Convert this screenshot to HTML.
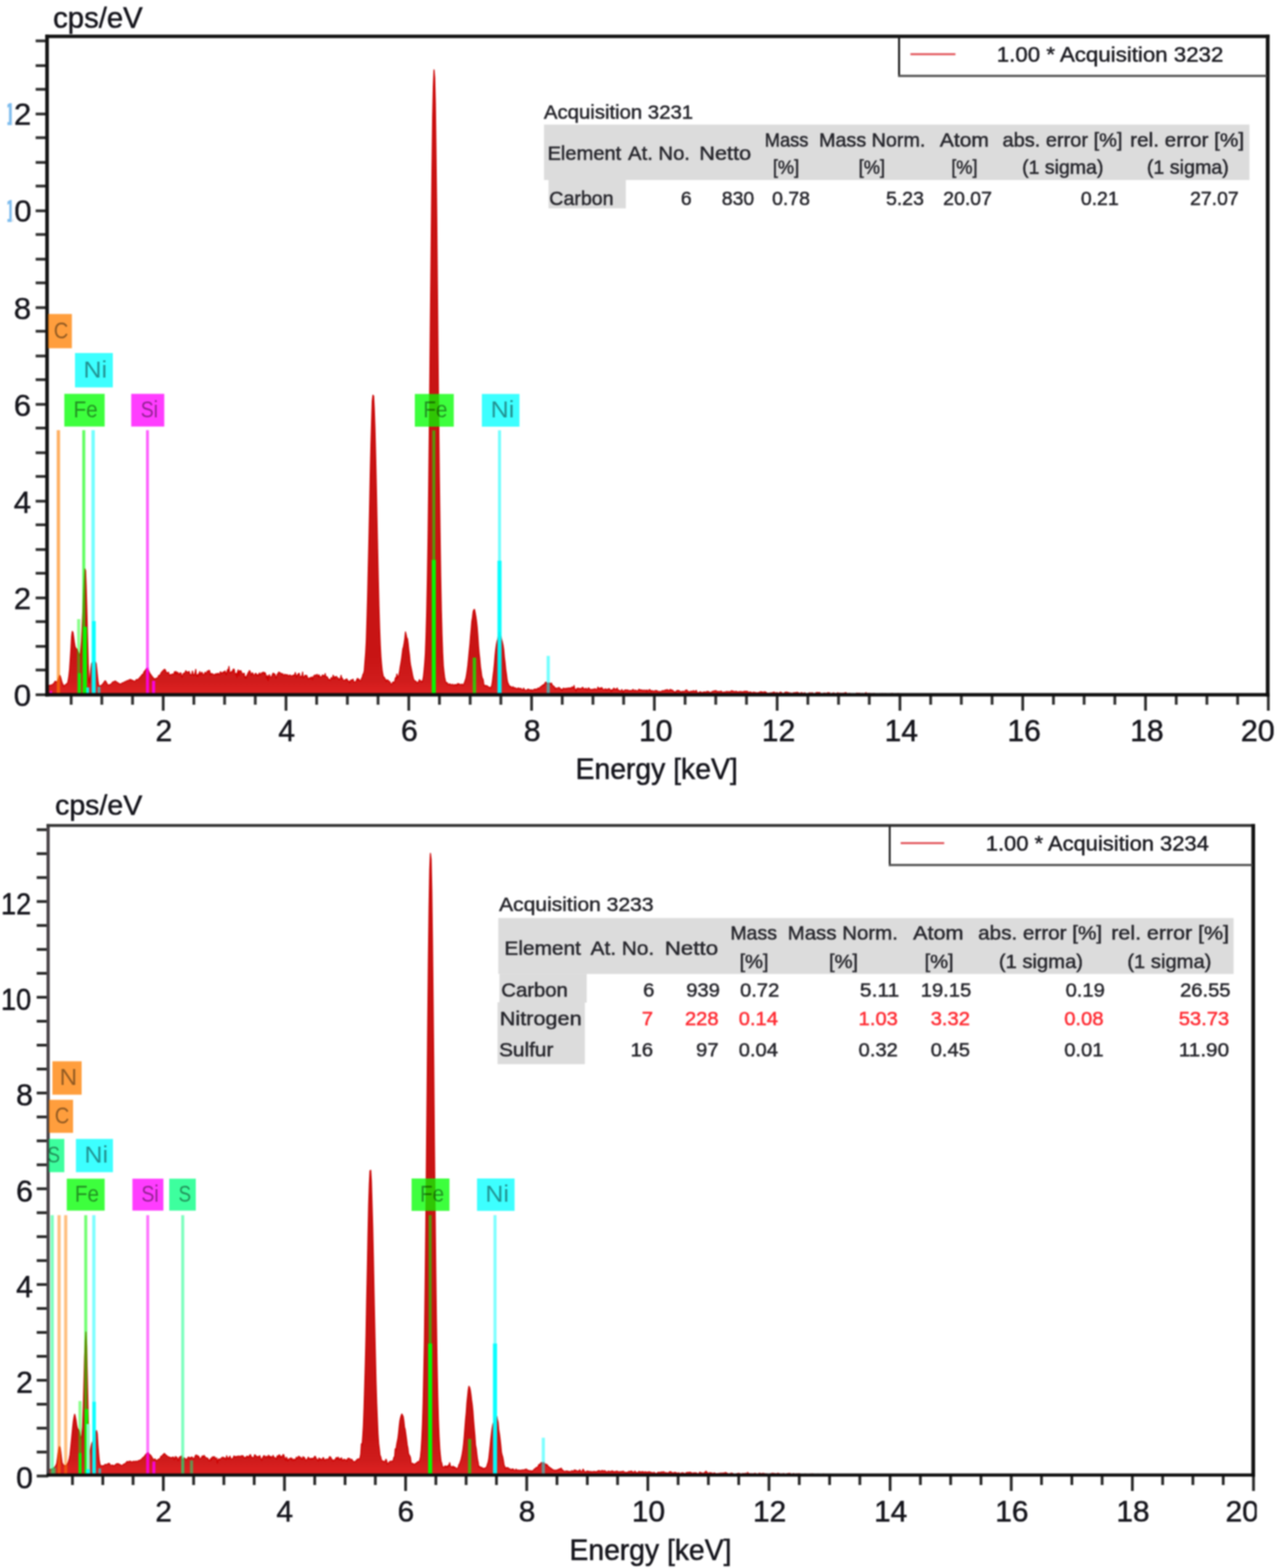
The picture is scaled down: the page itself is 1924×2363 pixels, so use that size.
<!DOCTYPE html>
<html lang="en"><head><meta charset="utf-8"><title>EDS spectra</title>
<style>html,body{margin:0;padding:0;background:#fff}svg{display:block;filter:blur(1px)}text{font-family:"Liberation Sans", sans-serif}</style>
</head><body>
<svg width="1924" height="2363" viewBox="0 0 1924 2363" role="img" aria-label="EDS spectra">
<defs>
<linearGradient id="gA" gradientUnits="userSpaceOnUse" x1="0" y1="1047" x2="0" y2="987">
<stop offset="0" stop-color="#e02222"/><stop offset="0.35" stop-color="#d01c1c"/><stop offset="1" stop-color="#c81414"/></linearGradient>
<clipPath id="clipA"><rect x="70.9" y="54.8" width="300" height="1100"/></clipPath>
<linearGradient id="gB" gradientUnits="userSpaceOnUse" x1="0" y1="2222.9" x2="0" y2="2162.9">
<stop offset="0" stop-color="#e02222"/><stop offset="0.35" stop-color="#d01c1c"/><stop offset="1" stop-color="#c81414"/></linearGradient>
<clipPath id="clipB"><rect x="72.5" y="1244" width="300" height="1100"/></clipPath>
<clipPath id="cutR"><rect x="1800" y="1050" width="119.5" height="100"/></clipPath>
<clipPath id="cutRB"><rect x="1800" y="2230" width="93.5" height="100"/></clipPath>
<clipPath id="cut2"><rect x="19.6" y="0" width="45" height="1200"/></clipPath>
<clipPath id="cut1"><rect x="11.2" y="0" width="6.4" height="1200"/></clipPath>
</defs>
<rect width="1924" height="2363" fill="#fff"/>
<g id="chartA">
<path d="M71.9 1047L71.9 1033.8L72.9 1033.5L73.9 1032.8L74.9 1033.2L75.9 1032.8L76.9 1032.3L77.9 1032.7L78.9 1031.7L79.9 1030.7L80.9 1030.1L81.9 1028.8L82.9 1026.8L83.9 1026.9L84.9 1028L85.9 1028.2L86.9 1025.6L87.9 1023.2L88.9 1020.6L89.9 1017.7L90.9 1019.1L91.9 1022.8L92.9 1026.4L93.9 1029.7L94.9 1031.6L95.9 1034.5L96.9 1033.1L97.9 1032.5L98.9 1032L99.9 1030.8L100.9 1030.1L101.9 1029.4L102.9 1024.5L103.9 1017.8L104.9 1008.4L105.9 993L106.9 977.4L107.9 959.4L108.9 951.6L109.9 952.9L110.9 959.7L111.9 967.2L112.9 973.5L113.9 976.1L114.9 978.2L115.9 978.1L116.9 980.8L117.9 983L118.9 985.1L119.9 987.9L120.9 986.3L121.9 979.3L122.9 965.8L123.9 942.5L124.9 920L125.9 896.8L126.9 875.7L127.9 857.4L128.9 859.7L129.9 886.5L130.9 922.2L131.9 961.2L132.9 999.4L133.9 1024.1L134.9 1029.8L135.9 1017.9L136.9 1007.4L137.9 999.9L138.9 998.7L139.9 997.5L140.9 997.2L141.9 996.8L142.9 996.7L143.9 998L144.9 1000.2L145.9 1009.3L146.9 1019.4L147.9 1028.5L148.9 1033.5L149.9 1033.9L150.9 1033.6L151.9 1033.5L152.9 1032.7L153.9 1031.9L154.9 1030.7L155.9 1029.3L156.9 1028L157.9 1026.3L158.9 1026L159.9 1028L160.9 1029.5L161.9 1031.6L162.9 1032.4L163.9 1032.2L164.9 1032.1L165.9 1031.5L166.9 1031.3L167.9 1030.4L168.9 1029L169.9 1027.8L170.9 1027.7L171.9 1027L172.9 1026.7L173.9 1026.3L174.9 1027.4L175.9 1027.9L176.9 1028.5L177.9 1029.3L178.9 1029.8L179.9 1030.7L180.9 1031L181.9 1030.5L182.9 1030.6L183.9 1029.5L184.9 1028.9L185.9 1029L186.9 1028.3L187.9 1027.4L188.9 1027.5L189.9 1026.8L190.9 1026.1L191.9 1025.8L192.9 1025.5L193.9 1025.3L194.9 1024.3L195.9 1024.5L196.9 1023.9L197.9 1025.2L198.9 1024.9L199.9 1025.4L200.9 1025.7L201.9 1026.8L202.9 1026.8L203.9 1026.3L204.9 1024.7L205.9 1024L206.9 1024.7L207.9 1023.7L208.9 1023.3L209.9 1021.6L210.9 1021.4L211.9 1019.2L212.9 1019.2L213.9 1016.6L214.9 1017.2L215.9 1015.4L216.9 1012.6L217.9 1011.6L218.9 1010.1L219.9 1008.7L220.9 1007.6L221.9 1008.2L222.9 1009.3L223.9 1010.3L224.9 1012.7L225.9 1015.1L226.9 1016.4L227.9 1017.5L228.9 1019.3L229.9 1020.1L230.9 1021.7L231.9 1022.5L232.9 1023L233.9 1023.1L234.9 1022.6L235.9 1021.9L236.9 1022L237.9 1021L238.9 1018.2L239.9 1017.8L240.9 1017.4L241.9 1015.9L242.9 1013.5L243.9 1012.6L244.9 1011.5L245.9 1010.3L246.9 1009.5L247.9 1008.5L248.9 1009.3L249.9 1011.6L250.9 1013.7L251.9 1013.9L252.9 1014.3L253.9 1013L254.9 1016.6L255.9 1017.6L256.9 1016.7L257.9 1016.7L258.9 1016.2L259.9 1015.8L260.9 1016.3L261.9 1016.3L262.9 1012.3L263.9 1015.1L264.9 1011.7L265.9 1016L266.9 1013.1L267.9 1013.5L268.9 1015L269.9 1017L270.9 1015L271.9 1013.9L272.9 1015.1L273.9 1020.6L274.9 1019.2L275.9 1015.4L276.9 1014.8L277.9 1014.1L278.9 1014L279.9 1010.7L280.9 1012.1L281.9 1012.7L282.9 1012.8L283.9 1013.2L284.9 1011.8L285.9 1015.5L286.9 1017.3L287.9 1016.7L288.9 1016.9L289.9 1011.3L290.9 1015.7L291.9 1018.2L292.9 1016.8L293.9 1014.1L294.9 1008.9L295.9 1018.6L296.9 1017L297.9 1020L298.9 1015.8L299.9 1015.4L300.9 1012L301.9 1017.4L302.9 1014.9L303.9 1013L304.9 1014.3L305.9 1017.2L306.9 1016.7L307.9 1016L308.9 1013L309.9 1015.1L310.9 1015L311.9 1012.1L312.9 1011.1L313.9 1011.7L314.9 1010.1L315.9 1010.9L316.9 1017.3L317.9 1014.9L318.9 1016.1L319.9 1015.2L320.9 1016.3L321.9 1016.5L322.9 1016.5L323.9 1017.4L324.9 1015.3L325.9 1015.3L326.9 1017.4L327.9 1014.7L328.9 1014.7L329.9 1016.8L330.9 1017L331.9 1012.5L332.9 1013.2L333.9 1015.3L334.9 1014.3L335.9 1013L336.9 1012.5L337.9 1013.6L338.9 1011.1L339.9 1013.6L340.9 1017.1L341.9 1013.1L342.9 1009.1L343.9 1011.4L344.9 1004.3L345.9 1012.8L346.9 1014.7L347.9 1013.1L348.9 1011.9L349.9 1012.8L350.9 1009.7L351.9 1008.1L352.9 1009.1L353.9 1015.2L354.9 1016.1L355.9 1014.7L356.9 1020.9L357.9 1012.5L358.9 1009.5L359.9 1018.3L360.9 1011.1L361.9 1010.8L362.9 1010.9L363.9 1013.4L364.9 1014.9L365.9 1015.7L366.9 1015.1L367.9 1014.6L368.9 1021.5L369.9 1019.7L370.9 1022.2L371.9 1018L372.9 1016.5L373.9 1013.7L374.9 1012.7L375.9 1010.5L376.9 1012.1L377.9 1016L378.9 1017.7L379.9 1013.9L380.9 1014.4L381.9 1017.5L382.9 1017.3L383.9 1016.9L384.9 1014.7L385.9 1015.1L386.9 1018.2L387.9 1016.9L388.9 1018.6L389.9 1015.9L390.9 1014.1L391.9 1017.1L392.9 1017.1L393.9 1014.1L394.9 1014.4L395.9 1013.7L396.9 1012.8L397.9 1015.8L398.9 1013.6L399.9 1014.8L400.9 1018.7L401.9 1022.3L402.9 1018L403.9 1025.6L404.9 1018.8L405.9 1016.8L406.9 1020.3L407.9 1020.7L408.9 1020.2L409.9 1018.1L410.9 1015.4L411.9 1014.4L412.9 1016.1L413.9 1015.6L414.9 1018.3L415.9 1022.2L416.9 1019.4L417.9 1015.8L418.9 1015.4L419.9 1012.9L420.9 1013.3L421.9 1013.9L422.9 1014.4L423.9 1015.1L424.9 1016.4L425.9 1015.2L426.9 1017.8L427.9 1018.3L428.9 1016.1L429.9 1016.8L430.9 1017.1L431.9 1017.1L432.9 1016.6L433.9 1018.8L434.9 1018.2L435.9 1017.8L436.9 1017.2L437.9 1018L438.9 1019.1L439.9 1018.7L440.9 1017.7L441.9 1018.4L442.9 1017.2L443.9 1018L444.9 1013.5L445.9 1017.6L446.9 1021.1L447.9 1017.5L448.9 1016.4L449.9 1014.9L450.9 1014.8L451.9 1019.5L452.9 1021.1L453.9 1019L454.9 1019.1L455.9 1012.8L456.9 1021.9L457.9 1021.2L458.9 1018.7L459.9 1017.5L460.9 1019.1L461.9 1017.7L462.9 1019.7L463.9 1023.3L464.9 1022.3L465.9 1022.7L466.9 1021.2L467.9 1022.7L468.9 1020.9L469.9 1020.1L470.9 1024.4L471.9 1020.7L472.9 1018.2L473.9 1017.9L474.9 1017.2L475.9 1018.2L476.9 1017.1L477.9 1016.3L478.9 1018L479.9 1020.4L480.9 1017.1L481.9 1020L482.9 1020L483.9 1020.9L484.9 1019.2L485.9 1017.2L486.9 1017.9L487.9 1018L488.9 1019.9L489.9 1015.1L490.9 1019.7L491.9 1019.8L492.9 1020L493.9 1021.6L494.9 1024.2L495.9 1023.8L496.9 1025.2L497.9 1024.7L498.9 1021.3L499.9 1021.9L500.9 1022.7L501.9 1017.6L502.9 1019.7L503.9 1022.9L504.9 1019.9L505.9 1020.3L506.9 1019.3L507.9 1021.2L508.9 1021.6L509.9 1022.3L510.9 1024.6L511.9 1023.2L512.9 1022.5L513.9 1017.7L514.9 1022.5L515.9 1022.4L516.9 1024.9L517.9 1025.4L518.9 1025.6L519.9 1024.7L520.9 1023.9L521.9 1023.4L522.9 1023.4L523.9 1026.8L524.9 1026.1L525.9 1026.9L526.9 1029.3L527.9 1025.7L528.9 1024.7L529.9 1024.9L530.9 1024.6L531.9 1023.5L532.9 1027.9L533.9 1027.6L534.9 1027.8L535.9 1027.6L536.9 1025.7L537.9 1023.2L538.9 1022.2L539.9 1025.7L540.9 1023.5L541.9 1026.2L542.9 1026.4L543.9 1024.7L544.9 1021.9L545.9 1020.3L546.9 1016.3L547.9 1015L548.9 1010.4L549.9 996.8L550.9 984.6L551.9 966.5L552.9 934.7L553.9 899.6L554.9 854.7L555.9 811.8L556.9 763.9L557.9 712.7L558.9 669.5L559.9 635.6L560.9 604.4L561.9 595.6L562.9 596.7L563.9 616.6L564.9 645.4L565.9 685L566.9 729.3L567.9 778.5L568.9 826.1L569.9 870.9L570.9 912.5L571.9 946.1L572.9 971.5L573.9 989.9L574.9 1001.9L575.9 1011.5L576.9 1016.6L577.9 1021.2L578.9 1020.5L579.9 1022.8L580.9 1023.7L581.9 1027.3L582.9 1025.1L583.9 1024.5L584.9 1026L585.9 1026.4L586.9 1027.1L587.9 1028.7L588.9 1031L589.9 1032L590.9 1029.9L591.9 1027.9L592.9 1028.1L593.9 1029.4L594.9 1025.6L595.9 1021.3L596.9 1023.3L597.9 1015.7L598.9 1022L599.9 1019.3L600.9 1017.6L601.9 1012.5L602.9 1005.3L603.9 1000L604.9 994L605.9 986.2L606.9 978L607.9 974.7L608.9 969.2L609.9 962.5L610.9 952.4L611.9 956.7L612.9 961.5L613.9 962.4L614.9 969.7L615.9 979.5L616.9 987.3L617.9 998.2L618.9 1004.3L619.9 1008.7L620.9 1013.9L621.9 1019.1L622.9 1022.7L623.9 1025L624.9 1026.2L625.9 1026.3L626.9 1027L627.9 1028.7L628.9 1029.7L629.9 1027.9L630.9 1027.1L631.9 1024.3L632.9 1025.7L633.9 1026.9L634.9 1026.3L635.9 1028L636.9 1025.2L637.9 1020.8L638.9 1011.2L639.9 999.7L640.9 985.2L641.9 958.6L642.9 923.9L643.9 876L644.9 815.6L645.9 735.8L646.9 645.3L647.9 541.2L648.9 440.9L649.9 345.3L650.9 253.5L651.9 175.6L652.9 130.7L653.9 105.2L654.9 117.3L655.9 156.5L656.9 231.9L657.9 317.1L658.9 421.7L659.9 529.3L660.9 626.8L661.9 717.9L662.9 795.6L663.9 866.7L664.9 917.9L665.9 955.2L666.9 983.6L667.9 1003.4L668.9 1012.8L669.9 1020.7L670.9 1025.2L671.9 1028.7L672.9 1028.9L673.9 1028.9L674.9 1031.8L675.9 1031L676.9 1031.4L677.9 1030.5L678.9 1032L679.9 1032L680.9 1031.7L681.9 1031.1L682.9 1032.5L683.9 1033.4L684.9 1031.6L685.9 1032.2L686.9 1031.6L687.9 1033.3L688.9 1031.1L689.9 1030L690.9 1031.3L691.9 1030.6L692.9 1031.4L693.9 1031.8L694.9 1032L695.9 1030.8L696.9 1032.2L697.9 1032.8L698.9 1030.5L699.9 1028.7L700.9 1025.6L701.9 1022.6L702.9 1017.1L703.9 1010.6L704.9 1002.7L705.9 992.5L706.9 981.9L707.9 972.2L708.9 959.3L709.9 948.3L710.9 936.4L711.9 930.2L712.9 921.7L713.9 919L714.9 918.4L715.9 923.5L716.9 928.9L717.9 935.9L718.9 945.1L719.9 957.5L720.9 972.8L721.9 984.8L722.9 993.7L723.9 1005L724.9 1011.7L725.9 1019.5L726.9 1022.3L727.9 1024L728.9 1030.9L729.9 1033.8L730.9 1032.9L731.9 1034.2L732.9 1033L733.9 1033.9L734.9 1034.1L735.9 1035.7L736.9 1035.5L737.9 1036L738.9 1037.1L739.9 1035.4L740.9 1033.2L741.9 1027.1L742.9 1018.5L743.9 1010.7L744.9 1000.9L745.9 988.4L746.9 978.7L747.9 971.5L748.9 966.5L749.9 963.3L750.9 958.4L751.9 953.1L752.9 952.5L753.9 957.3L754.9 959.9L755.9 964.1L756.9 967.8L757.9 972.4L758.9 978.9L759.9 990.3L760.9 998L761.9 1008.5L762.9 1015.4L763.9 1023.3L764.9 1028.4L765.9 1030.6L766.9 1032.7L767.9 1034.8L768.9 1034.4L769.9 1034.6L770.9 1036.3L771.9 1037L772.9 1034.7L773.9 1037.4L774.9 1036.6L775.9 1036.4L776.9 1037.2L777.9 1037.7L778.9 1037.6L779.9 1038L780.9 1036.7L781.9 1037.3L782.9 1037.8L783.9 1037.9L784.9 1037.3L785.9 1039.2L786.9 1039.3L787.9 1040.1L788.9 1037.1L789.9 1038.7L790.9 1039.9L791.9 1041L792.9 1040.1L793.9 1040.2L794.9 1038.8L795.9 1038.5L796.9 1038.9L797.9 1039.4L798.9 1040L799.9 1040.6L800.9 1039.3L801.9 1041.4L802.9 1040.3L803.9 1039.3L804.9 1038.6L805.9 1039.4L806.9 1038.3L807.9 1039.5L808.9 1038.1L809.9 1038.6L810.9 1036.5L811.9 1038.4L812.9 1037.2L813.9 1035.3L814.9 1034.8L815.9 1034.6L816.9 1032.8L817.9 1033.5L818.9 1031.7L819.9 1032.6L820.9 1029.7L821.9 1028.3L822.9 1028.1L823.9 1030.6L824.9 1029.8L825.9 1030L826.9 1029L827.9 1031L828.9 1029.5L829.9 1031.7L830.9 1029.4L831.9 1032.2L832.9 1033.2L833.9 1034L834.9 1034.7L835.9 1036.2L836.9 1038.6L837.9 1036.9L838.9 1037.4L839.9 1037.1L840.9 1036.6L841.9 1036L842.9 1036.7L843.9 1037.4L844.9 1039.1L845.9 1038.6L846.9 1040.7L847.9 1038.5L848.9 1036.9L849.9 1038.1L850.9 1037.7L851.9 1037.8L852.9 1037.2L853.9 1038.5L854.9 1037.1L855.9 1037.1L856.9 1036.9L857.9 1037.7L858.9 1036.5L859.9 1037.8L860.9 1036.6L861.9 1035.2L862.9 1035.9L863.9 1036.9L864.9 1033.1L865.9 1038.2L866.9 1038.7L867.9 1041.8L868.9 1038.3L869.9 1037.1L870.9 1038.2L871.9 1037.1L872.9 1038.1L873.9 1037.7L874.9 1037.7L875.9 1037.5L876.9 1036.5L877.9 1035.8L878.9 1037.3L879.9 1038.3L880.9 1038.1L881.9 1038.7L882.9 1037.1L883.9 1038.7L884.9 1039.7L885.9 1037.8L886.9 1036.6L887.9 1037.8L888.9 1038.8L889.9 1039L890.9 1039.5L891.9 1039L892.9 1039.3L893.9 1038.6L894.9 1038.4L895.9 1038.9L896.9 1037.9L897.9 1039.3L898.9 1039.4L899.9 1038.5L900.9 1035.4L901.9 1037.3L902.9 1038L903.9 1036.9L904.9 1038.1L905.9 1036.4L906.9 1036.4L907.9 1038.1L908.9 1039.3L909.9 1039.4L910.9 1039.1L911.9 1038L912.9 1038.5L913.9 1040.4L914.9 1038.8L915.9 1038.4L916.9 1038.5L917.9 1037.7L918.9 1039.1L919.9 1039.6L920.9 1042.4L921.9 1039.4L922.9 1040.4L923.9 1038.5L924.9 1037L925.9 1038L926.9 1038.8L927.9 1038.6L928.9 1038.6L929.9 1036.8L930.9 1040L931.9 1040L932.9 1040.3L933.9 1041.7L934.9 1041.1L935.9 1041.4L936.9 1039.1L937.9 1041.1L938.9 1043.8L939.9 1041.1L940.9 1040.5L941.9 1039.7L942.9 1039.7L943.9 1040L944.9 1040L945.9 1039.8L946.9 1041.3L947.9 1041L948.9 1040.6L949.9 1040.7L950.9 1041.2L951.9 1040.7L952.9 1039.7L953.9 1039L954.9 1040.9L955.9 1041.2L956.9 1040L957.9 1040.4L958.9 1041.3L959.9 1041L960.9 1041L961.9 1040.2L962.9 1038.7L963.9 1039.6L964.9 1039.8L965.9 1040.3L966.9 1039.8L967.9 1040.4L968.9 1041.1L969.9 1040L970.9 1040.4L971.9 1040.5L972.9 1040.2L973.9 1042.4L974.9 1039.8L975.9 1041.6L976.9 1041.3L977.9 1039.7L978.9 1039.1L979.9 1040.4L980.9 1042.5L981.9 1040.8L982.9 1041.1L983.9 1041.3L984.9 1041.7L985.9 1041.4L986.9 1040.9L987.9 1040.5L988.9 1041.3L989.9 1040.7L990.9 1042.4L991.9 1042.2L992.9 1042L993.9 1042L994.9 1042.6L995.9 1042.3L996.9 1041.7L997.9 1040.8L998.9 1041L999.9 1041.1L1000.9 1041.1L1001.9 1040L1002.9 1039.9L1003.9 1040.5L1004.9 1039.3L1005.9 1039.5L1006.9 1040.9L1007.9 1040.5L1008.9 1040.5L1009.9 1038.8L1010.9 1040.3L1011.9 1040.1L1012.9 1039.8L1013.9 1041.7L1014.9 1041.6L1015.9 1042.9L1016.9 1042.7L1017.9 1043.9L1018.9 1041.4L1019.9 1041.4L1020.9 1040.4L1021.9 1041.2L1022.9 1040.6L1023.9 1041.8L1024.9 1043L1025.9 1042L1026.9 1042.6L1027.9 1042.4L1028.9 1041.5L1029.9 1042.4L1030.9 1042.2L1031.9 1041.6L1032.9 1040.2L1033.9 1040L1034.9 1039.7L1035.9 1042.4L1036.9 1042.3L1037.9 1042L1038.9 1043.7L1039.9 1042.9L1040.9 1041.5L1041.9 1041.7L1042.9 1042.4L1043.9 1041.7L1044.9 1040.7L1045.9 1041.7L1046.9 1042.4L1047.9 1041.7L1048.9 1040.4L1049.9 1042.5L1050.9 1044.1L1051.9 1045L1052.9 1043.5L1053.9 1043.3L1054.9 1042.4L1055.9 1043.1L1056.9 1043.2L1057.9 1044.1L1058.9 1043.6L1059.9 1042.8L1060.9 1043.1L1061.9 1042.7L1062.9 1043.1L1063.9 1043.2L1064.9 1042.1L1065.9 1042L1066.9 1042.2L1067.9 1042.4L1068.9 1043.4L1069.9 1043.5L1070.9 1043.6L1071.9 1043.3L1072.9 1042L1073.9 1042.3L1074.9 1041.7L1075.9 1041.1L1076.9 1041.4L1077.9 1041.2L1078.9 1040.7L1079.9 1042.4L1080.9 1043L1081.9 1041.9L1082.9 1042.3L1083.9 1042.2L1084.9 1042.9L1085.9 1041.5L1086.9 1041.7L1087.9 1042.8L1088.9 1043.7L1089.9 1043.4L1090.9 1042.8L1091.9 1043.3L1092.9 1043.4L1093.9 1042.3L1094.9 1042L1095.9 1042.6L1096.9 1042.6L1097.9 1042.2L1098.9 1042.4L1099.9 1043.1L1100.9 1042.3L1101.9 1040.9L1102.9 1041.2L1103.9 1041.5L1104.9 1041.8L1105.9 1042.2L1106.9 1042.6L1107.9 1042.4L1108.9 1041.7L1109.9 1042.1L1110.9 1042.6L1111.9 1043.1L1112.9 1042.6L1113.9 1042.3L1114.9 1042.4L1115.9 1042.2L1116.9 1042.2L1117.9 1042.8L1118.9 1042.9L1119.9 1042.3L1120.9 1042.8L1121.9 1041.6L1122.9 1042.3L1123.9 1041.8L1124.9 1041.9L1125.9 1042L1126.9 1042.5L1127.9 1043.5L1128.9 1043.7L1129.9 1042.9L1130.9 1042.8L1131.9 1043.5L1132.9 1044.1L1133.9 1044L1134.9 1043.2L1135.9 1043.1L1136.9 1043.4L1137.9 1043.9L1138.9 1043.5L1139.9 1044.8L1140.9 1044.3L1141.9 1043.8L1142.9 1044.1L1143.9 1043.3L1144.9 1043.4L1145.9 1042.3L1146.9 1042.7L1147.9 1042.9L1148.9 1042.8L1149.9 1043.6L1150.9 1043.5L1151.9 1042.3L1152.9 1043.7L1153.9 1042.9L1154.9 1044.2L1155.9 1044.4L1156.9 1045.1L1157.9 1044.6L1158.9 1044.6L1159.9 1044.5L1160.9 1044.3L1161.9 1044.2L1162.9 1043.9L1163.9 1044.3L1164.9 1043.3L1165.9 1043.1L1166.9 1043.2L1167.9 1044L1168.9 1045.2L1169.9 1044L1170.9 1043.6L1171.9 1045.1L1172.9 1044.5L1173.9 1044.9L1174.9 1043.5L1175.9 1043.1L1176.9 1043.4L1177.9 1044.1L1178.9 1044.6L1179.9 1045.9L1180.9 1044.9L1181.9 1044.1L1182.9 1043.5L1183.9 1043.1L1184.9 1043.5L1185.9 1043.1L1186.9 1043.9L1187.9 1043.6L1188.9 1044.3L1189.9 1044.5L1190.9 1044.3L1191.9 1044.6L1192.9 1045.4L1193.9 1044.6L1194.9 1044.6L1195.9 1043.9L1196.9 1044.2L1197.9 1043.8L1198.9 1043.7L1199.9 1043.6L1200.9 1043.3L1201.9 1043.9L1202.9 1044.1L1203.9 1044.5L1204.9 1044.7L1205.9 1044.7L1206.9 1044.1L1207.9 1043.7L1208.9 1044.5L1209.9 1045.1L1210.9 1044.8L1211.9 1044L1212.9 1044.2L1213.9 1045.4L1214.9 1045.7L1215.9 1046L1216.9 1045.1L1217.9 1045.9L1218.9 1044.9L1219.9 1043.8L1220.9 1044.6L1221.9 1044.8L1222.9 1044L1223.9 1044.1L1224.9 1044.7L1225.9 1045.8L1226.9 1045.6L1227.9 1045.2L1228.9 1044.2L1229.9 1044.1L1230.9 1043.4L1231.9 1044.4L1232.9 1043.7L1233.9 1043.7L1234.9 1043.6L1235.9 1044.9L1236.9 1045.2L1237.9 1045.5L1238.9 1045.9L1239.9 1045.1L1240.9 1044.8L1241.9 1044.4L1242.9 1044.8L1243.9 1044.6L1244.9 1046L1245.9 1045.2L1246.9 1043.8L1247.9 1044.5L1248.9 1044L1249.9 1044.1L1250.9 1045.6L1251.9 1045.9L1252.9 1045.6L1253.9 1044.8L1254.9 1044.7L1255.9 1044.1L1256.9 1044.8L1257.9 1045.3L1258.9 1045.8L1259.9 1045.6L1260.9 1044.9L1261.9 1044.1L1262.9 1044.3L1263.9 1045L1264.9 1045L1265.9 1044.5L1266.9 1045L1267.9 1045.2L1268.9 1044.8L1269.9 1044.7L1270.9 1044.5L1271.9 1045.3L1272.9 1044.2L1273.9 1043.7L1274.9 1044.2L1275.9 1045.1L1276.9 1045.9L1277.9 1045.9L1278.9 1045.3L1279.9 1045.1L1280.9 1045.5L1281.9 1045.6L1282.9 1046.3L1283.9 1045.5L1284.9 1046.3L1285.9 1046.3L1286.9 1045.9L1287.9 1046.1L1288.9 1045.7L1289.9 1045.8L1290.9 1044.4L1291.9 1045.4L1292.9 1045L1293.9 1044.9L1294.9 1044.5L1295.9 1045.3L1296.9 1046.2L1297.9 1045.6L1298.9 1045.3L1299.9 1045.4L1300.9 1045.8L1301.9 1045.8L1302.9 1045.1L1303.9 1044.7L1304.9 1043.7L1305.9 1046.1L1306.9 1045.6L1307.9 1045.2L1308.9 1045.1L1309.9 1045.3L1310.9 1045.8L1311.9 1045.4L1312.9 1046.2L1313.9 1045.4L1314.9 1045.7L1315.9 1045.4L1316.9 1045.3L1317.9 1045.4L1318.9 1045.9L1319.9 1046.4L1320.9 1046.8L1321.9 1046.2L1322.9 1045.9L1323.9 1045.8L1324.9 1045.9L1325.9 1045.5L1326.9 1046.1L1327.9 1046.2L1328.9 1045.5L1329.9 1045.6L1330.9 1045.6L1331.9 1046.3L1332.9 1046.2L1333.9 1045.4L1334.9 1045.8L1335.9 1046.1L1336.9 1046.6L1337.9 1046.3L1338.9 1046.3L1339.9 1046.1L1340.9 1045.6L1341.9 1045.8L1342.9 1045.9L1343.9 1045.1L1344.9 1045.5L1345.9 1046L1346.9 1046.1L1347.9 1045.9L1348.9 1046.2L1349.9 1045.6L1350.9 1046.2L1351.9 1045.5L1352.9 1045.6L1353.9 1045.4L1354.9 1045.7L1355.9 1046.2L1356.9 1046.9L1357.9 1046.5L1358.9 1046.2L1359.9 1046.1L1360.9 1046.1L1361.9 1045.8L1362.9 1045.7L1363.9 1046.3L1364.9 1045.8L1365.9 1046.1L1366.9 1046L1367.9 1046.3L1368.9 1046.9L1369.9 1046.8L1370.9 1046.5L1371.9 1046.1L1372.9 1046.6L1373.9 1046.1L1374.9 1046.3L1375.9 1046.3L1376.9 1046.7L1377.9 1046.5L1378.9 1045.8L1379.9 1046L1380.9 1045.8L1381.9 1045.9L1382.9 1046L1383.9 1046.1L1384.9 1045.8L1385.9 1045.8L1386.9 1046.4L1387.9 1046.6L1388.9 1046.7L1389.9 1046.2L1390.9 1046.3L1391.9 1046.8L1392.9 1046.4L1393.9 1046.5L1394.9 1046.2L1395.9 1046.5L1396.9 1046.7L1397.9 1047L1398.9 1046.7L1399.9 1045.8L1400.9 1046.3L1401.9 1046.3L1402.9 1046.2L1403.9 1045.8L1404.9 1046L1405.9 1045.9L1406.9 1045.8L1407.9 1046.1L1408.9 1046.7L1409.9 1046.6L1410.9 1046.8L1411.9 1046.7L1412.9 1046.7L1413.9 1046.8L1414.9 1046.7L1415.9 1046.7L1416.9 1046.2L1417.9 1046.7L1418.9 1046.7L1419.9 1046.5L1420.9 1046.5L1421.9 1046.3L1422.9 1046.3L1423.9 1046.5L1424.9 1046.3L1425.9 1046.9L1426.9 1046.7L1427.9 1046.9L1428.9 1046.8L1429.9 1046.8L1430.9 1047L1431.9 1046.9L1432.9 1046.7L1433.9 1046.9L1434.9 1046.7L1435.9 1046.4L1436.9 1046.5L1437.9 1046.4L1438.9 1046.7L1439.9 1046.8L1440.9 1046.7L1441.9 1046.6L1442.9 1046.5L1443.9 1046.8L1444.9 1046.7L1445.9 1046.8L1446.9 1046.7L1447.9 1046.7L1448.9 1046.8L1449.9 1046.9L1450.9 1046.8L1451.9 1047L1452.9 1047L1453.9 1047L1454.9 1047L1455.9 1047L1456.9 1047L1457.9 1047L1458.9 1046.8L1459.9 1047L1460.9 1046.9L1461.9 1046.7L1462.9 1047L1463.9 1047L1464.9 1046.8L1465.9 1046.9L1466.9 1047L1466.9 1047Z" fill="url(#gA)" stroke="#cc0000" stroke-width="1.6" stroke-linejoin="round"/>
<g>
<rect x="85.5" y="648.3" width="5" height="396.7" fill="rgba(255,128,0,0.62)"/>
<rect x="123.9" y="648.3" width="4.6" height="396.7" fill="rgba(0,255,0,0.62)"/>
<rect x="116.2" y="933" width="4.8" height="112" fill="rgba(0,255,0,0.45)"/>
<rect x="117.5" y="1014.4" width="4.6" height="30.6" fill="rgba(0,255,0,0.85)"/>
<rect x="125.4" y="944.5" width="5.6" height="100.5" fill="rgba(0,255,0,0.92)"/>
<rect x="137.7" y="648.3" width="5.2" height="396.7" fill="rgba(0,255,255,0.55)"/>
<rect x="138.7" y="936" width="5.6" height="109" fill="rgba(0,255,255,0.92)"/>
<rect x="147.1" y="1035" width="4.2" height="10" fill="rgba(0,255,255,0.6)"/>
<rect x="130" y="1036" width="4.4" height="9" fill="rgba(0,255,255,0.9)"/>
<rect x="220" y="648.3" width="4.4" height="396.7" fill="rgba(255,0,255,0.62)"/>
<rect x="219.9" y="1006" width="4.6" height="39" fill="rgba(255,0,255,0.5)"/>
<rect x="229.1" y="1026" width="4.6" height="19" fill="rgba(255,0,255,0.85)"/>
<rect x="75.1" y="1041" width="3.4" height="4" fill="rgba(255,0,255,0.8)"/>
<rect x="651.3" y="648.5" width="4.6" height="396.5" fill="rgba(0,255,0,0.55)"/>
<rect x="650.5" y="843.7" width="6.2" height="201.3" fill="rgba(0,255,0,0.92)"/>
<rect x="712.2" y="991" width="5.2" height="54" fill="rgba(0,255,0,0.72)"/>
<rect x="750.3" y="648.5" width="4.6" height="396.5" fill="rgba(0,255,255,0.55)"/>
<rect x="749.5" y="845" width="6.2" height="200" fill="rgba(0,255,255,0.92)"/>
<rect x="823.6" y="988.4" width="4.8" height="56.6" fill="rgba(0,255,255,0.55)"/>
</g>
<g fill="#303030">
<rect x="53.7" y="1044.9" width="17.2" height="4.2"/>
<rect x="53.7" y="1007.6" width="17.2" height="4.2"/>
<rect x="53.7" y="972" width="17.2" height="4.2"/>
<rect x="53.7" y="934.7" width="17.2" height="4.2"/>
<rect x="53.7" y="899" width="17.2" height="4.2"/>
<rect x="53.7" y="861.8" width="17.2" height="4.2"/>
<rect x="53.7" y="826.1" width="17.2" height="4.2"/>
<rect x="53.7" y="788.8" width="17.2" height="4.2"/>
<rect x="53.7" y="753.2" width="17.2" height="4.2"/>
<rect x="53.7" y="715.9" width="17.2" height="4.2"/>
<rect x="53.7" y="680.2" width="17.2" height="4.2"/>
<rect x="53.7" y="643" width="17.2" height="4.2"/>
<rect x="53.7" y="607.3" width="17.2" height="4.2"/>
<rect x="53.7" y="570.1" width="17.2" height="4.2"/>
<rect x="53.7" y="534.4" width="17.2" height="4.2"/>
<rect x="53.7" y="497.1" width="17.2" height="4.2"/>
<rect x="53.7" y="461.5" width="17.2" height="4.2"/>
<rect x="53.7" y="424.2" width="17.2" height="4.2"/>
<rect x="53.7" y="388.5" width="17.2" height="4.2"/>
<rect x="53.7" y="351.3" width="17.2" height="4.2"/>
<rect x="53.7" y="315.6" width="17.2" height="4.2"/>
<rect x="53.7" y="278.3" width="17.2" height="4.2"/>
<rect x="53.7" y="242.7" width="17.2" height="4.2"/>
<rect x="53.7" y="205.4" width="17.2" height="4.2"/>
<rect x="53.7" y="169.7" width="17.2" height="4.2"/>
<rect x="53.7" y="132.5" width="17.2" height="4.2"/>
<rect x="53.7" y="96.8" width="17.2" height="4.2"/>
<rect x="53.7" y="59.5" width="17.2" height="4.2"/>
<rect x="105.1" y="1047" width="4.2" height="15"/>
<rect x="151.3" y="1047" width="4.2" height="15"/>
<rect x="197.6" y="1047" width="4.2" height="15"/>
<rect x="243.8" y="1047" width="4.2" height="24"/>
<rect x="290" y="1047" width="4.2" height="15"/>
<rect x="336.3" y="1047" width="4.2" height="15"/>
<rect x="382.5" y="1047" width="4.2" height="15"/>
<rect x="428.8" y="1047" width="4.2" height="24"/>
<rect x="475" y="1047" width="4.2" height="15"/>
<rect x="521.3" y="1047" width="4.2" height="15"/>
<rect x="567.5" y="1047" width="4.2" height="15"/>
<rect x="613.8" y="1047" width="4.2" height="24"/>
<rect x="660" y="1047" width="4.2" height="15"/>
<rect x="706.3" y="1047" width="4.2" height="15"/>
<rect x="752.5" y="1047" width="4.2" height="15"/>
<rect x="798.8" y="1047" width="4.2" height="24"/>
<rect x="845" y="1047" width="4.2" height="15"/>
<rect x="891.3" y="1047" width="4.2" height="15"/>
<rect x="937.5" y="1047" width="4.2" height="15"/>
<rect x="983.8" y="1047" width="4.2" height="24"/>
<rect x="1030.1" y="1047" width="4.2" height="15"/>
<rect x="1076.3" y="1047" width="4.2" height="15"/>
<rect x="1122.6" y="1047" width="4.2" height="15"/>
<rect x="1168.8" y="1047" width="4.2" height="24"/>
<rect x="1215.1" y="1047" width="4.2" height="15"/>
<rect x="1261.3" y="1047" width="4.2" height="15"/>
<rect x="1307.6" y="1047" width="4.2" height="15"/>
<rect x="1353.8" y="1047" width="4.2" height="24"/>
<rect x="1400.1" y="1047" width="4.2" height="15"/>
<rect x="1446.3" y="1047" width="4.2" height="15"/>
<rect x="1492.6" y="1047" width="4.2" height="15"/>
<rect x="1538.8" y="1047" width="4.2" height="24"/>
<rect x="1585.1" y="1047" width="4.2" height="15"/>
<rect x="1631.3" y="1047" width="4.2" height="15"/>
<rect x="1677.6" y="1047" width="4.2" height="15"/>
<rect x="1723.8" y="1047" width="4.2" height="24"/>
<rect x="1770.1" y="1047" width="4.2" height="15"/>
<rect x="1816.3" y="1047" width="4.2" height="15"/>
<rect x="1862.6" y="1047" width="4.2" height="15"/>
<rect x="1908.8" y="1047" width="4.2" height="24"/>
</g>
<rect x="68.2" y="52.2" width="5.4" height="997.4" fill="#121212"/>
<rect x="68.2" y="52.2" width="1844.6" height="5.2" fill="#121212"/>
<rect x="1907.2" y="52.2" width="5.6" height="997.4" fill="#121212"/>
<rect x="68.2" y="1044.4" width="1844.6" height="5.2" fill="#0e0e0e"/>
<rect x="72.5" y="473.2" width="35.8" height="51.6" fill="rgba(255,128,0,0.76)"/>
<rect x="113" y="532" width="57" height="51.8" fill="rgba(0,255,255,0.76)"/>
<rect x="96.9" y="593.5" width="60.8" height="49.3" fill="rgba(0,255,0,0.76)"/>
<rect x="197.7" y="593.5" width="49.8" height="49.3" fill="rgba(255,0,255,0.76)"/>
<rect x="625" y="593.7" width="58.7" height="49.3" fill="rgba(0,255,0,0.76)"/>
<rect x="726" y="593.7" width="56.7" height="49.3" fill="rgba(0,255,255,0.76)"/>
<g font-size="35" text-anchor="middle" fill="rgba(0,0,0,.43)">
<text x="92" y="509.8" textLength="21.9" lengthAdjust="spacingAndGlyphs">C</text>
<text x="143.5" y="568.7" textLength="35.5" lengthAdjust="spacingAndGlyphs">Ni</text>
<text x="129" y="628.9" textLength="36.6" lengthAdjust="spacingAndGlyphs">Fe</text>
<text x="225" y="628.9" textLength="26.2" lengthAdjust="spacingAndGlyphs">Si</text>
<text x="656" y="629.1" textLength="36.6" lengthAdjust="spacingAndGlyphs">Fe</text>
<text x="757" y="629.1" textLength="35.5" lengthAdjust="spacingAndGlyphs">Ni</text>
</g>
</g>
<g id="chartB">
<path d="M73.5 2222.9L73.5 2214.9L74.5 2214.8L75.5 2214.4L76.5 2214.5L77.5 2214L78.5 2213.6L79.5 2213.8L80.5 2213L81.5 2211.6L82.5 2211.1L83.5 2209.7L84.5 2207.8L85.5 2205.3L86.5 2198.1L87.5 2190.1L88.5 2184.5L89.5 2180L90.5 2181.3L91.5 2187.4L92.5 2196.4L93.5 2204L94.5 2206.1L95.5 2207.7L96.5 2209L97.5 2208.4L98.5 2208.9L99.5 2208.5L100.5 2208.2L101.5 2206.1L102.5 2204.8L103.5 2201.6L104.5 2197.5L105.5 2192.2L106.5 2182.4L107.5 2172.1L108.5 2161.5L109.5 2151.1L110.5 2141.9L111.5 2135.6L112.5 2131.3L113.5 2135.3L114.5 2140.1L115.5 2147.6L116.5 2152.2L117.5 2154.1L118.5 2154.9L119.5 2157.5L120.5 2162.6L121.5 2167.9L122.5 2166.9L123.5 2161.2L124.5 2150.6L125.5 2120.4L126.5 2083.4L127.5 2044.9L128.5 2021.2L129.5 2007.2L130.5 2029.8L131.5 2071.4L132.5 2118.3L133.5 2161.3L134.5 2184.2L135.5 2192.2L136.5 2184.7L137.5 2178.5L138.5 2174.8L139.5 2172.9L140.5 2170.9L141.5 2167.9L142.5 2164.3L143.5 2160.6L144.5 2156.9L145.5 2156.1L146.5 2160.5L147.5 2177.2L148.5 2190L149.5 2200.7L150.5 2206L151.5 2208.8L152.5 2209.2L153.5 2209.2L154.5 2208.6L155.5 2209.2L156.5 2208.6L157.5 2207.9L158.5 2206.9L159.5 2207.1L160.5 2207.2L161.5 2206.7L162.5 2205.9L163.5 2205.6L164.5 2205.2L165.5 2206.6L166.5 2208.1L167.5 2208.6L168.5 2208.3L169.5 2207.8L170.5 2208.9L171.5 2208.8L172.5 2209L173.5 2207.4L174.5 2207.3L175.5 2206L176.5 2205.9L177.5 2206.1L178.5 2205.9L179.5 2206.7L180.5 2207.2L181.5 2207.4L182.5 2208.7L183.5 2208.5L184.5 2208L185.5 2207.4L186.5 2206.4L187.5 2206.2L188.5 2205.9L189.5 2204.5L190.5 2203.9L191.5 2202.3L192.5 2203L193.5 2203.1L194.5 2202.3L195.5 2202.1L196.5 2202.2L197.5 2202.5L198.5 2203.5L199.5 2203.4L200.5 2202.4L201.5 2202.1L202.5 2202.8L203.5 2202.4L204.5 2202.1L205.5 2202.1L206.5 2202.5L207.5 2202.6L208.5 2201L209.5 2201.2L210.5 2200.8L211.5 2200.1L212.5 2199.5L213.5 2198.9L214.5 2197.3L215.5 2196.4L216.5 2196.1L217.5 2194.6L218.5 2193.4L219.5 2191.8L220.5 2191L221.5 2190.1L222.5 2189.9L223.5 2189.5L224.5 2191L225.5 2191.8L226.5 2192.8L227.5 2193.7L228.5 2195.3L229.5 2197L230.5 2198.9L231.5 2199.4L232.5 2199.5L233.5 2198.5L234.5 2200.3L235.5 2200.7L236.5 2200.8L237.5 2200L238.5 2199.1L239.5 2199.1L240.5 2198.3L241.5 2197.5L242.5 2194.6L243.5 2194.9L244.5 2193.8L245.5 2192L246.5 2191.7L247.5 2190.3L248.5 2191.2L249.5 2192.4L250.5 2193.1L251.5 2193.9L252.5 2194.8L253.5 2195.5L254.5 2195.6L255.5 2195.9L256.5 2196.7L257.5 2196.8L258.5 2196.8L259.5 2196.2L260.5 2196L261.5 2195.9L262.5 2199.8L263.5 2197.9L264.5 2194.9L265.5 2196.9L266.5 2196L267.5 2198.5L268.5 2201.3L269.5 2197.7L270.5 2196L271.5 2195.1L272.5 2196L273.5 2194.1L274.5 2201.2L275.5 2200.4L276.5 2198.7L277.5 2197L278.5 2198L279.5 2198.6L280.5 2199.8L281.5 2199.3L282.5 2197.6L283.5 2196L284.5 2195.9L285.5 2196.6L286.5 2198.7L287.5 2196.7L288.5 2195.9L289.5 2195.9L290.5 2197.3L291.5 2198.2L292.5 2199L293.5 2195.5L294.5 2193.6L295.5 2192.7L296.5 2194L297.5 2193.3L298.5 2196.4L299.5 2194.5L300.5 2198.1L301.5 2198.2L302.5 2197.9L303.5 2196.6L304.5 2194.5L305.5 2194.1L306.5 2196L307.5 2193.2L308.5 2194.9L309.5 2196.1L310.5 2196.6L311.5 2197.7L312.5 2197.2L313.5 2198.4L314.5 2200.9L315.5 2200.4L316.5 2201.3L317.5 2197.7L318.5 2200.2L319.5 2195.9L320.5 2197L321.5 2195.2L322.5 2196.4L323.5 2195.4L324.5 2198.8L325.5 2198.3L326.5 2197L327.5 2205.2L328.5 2200.3L329.5 2198.5L330.5 2199.1L331.5 2200.2L332.5 2198L333.5 2197.7L334.5 2196.2L335.5 2196.4L336.5 2196.1L337.5 2198.4L338.5 2196.9L339.5 2198.5L340.5 2199.6L341.5 2193.8L342.5 2197.3L343.5 2197.1L344.5 2199.2L345.5 2195.7L346.5 2194.4L347.5 2198L348.5 2198.2L349.5 2198.6L350.5 2198.8L351.5 2196.3L352.5 2194.2L353.5 2194.8L354.5 2196.3L355.5 2195L356.5 2195.5L357.5 2194.6L358.5 2194.7L359.5 2194.4L360.5 2194.4L361.5 2195.1L362.5 2195L363.5 2193.9L364.5 2194.4L365.5 2193.7L366.5 2194.4L367.5 2196.4L368.5 2197.4L369.5 2196.3L370.5 2197.2L371.5 2194.6L372.5 2194.9L373.5 2194.6L374.5 2196.7L375.5 2194.8L376.5 2192.6L377.5 2192.3L378.5 2196.5L379.5 2195.8L380.5 2196.5L381.5 2196.8L382.5 2196.5L383.5 2192.6L384.5 2192.6L385.5 2194.1L386.5 2194.8L387.5 2195.3L388.5 2195.2L389.5 2196.1L390.5 2194.3L391.5 2193.8L392.5 2197.7L393.5 2198.7L394.5 2200.8L395.5 2196.6L396.5 2195.7L397.5 2193.7L398.5 2193.9L399.5 2196.2L400.5 2196.7L401.5 2194.5L402.5 2195.5L403.5 2196.5L404.5 2193.1L405.5 2193.9L406.5 2197.5L407.5 2194.9L408.5 2195.7L409.5 2195.8L410.5 2195.3L411.5 2193.3L412.5 2196L413.5 2196.4L414.5 2197L415.5 2197.8L416.5 2199.1L417.5 2194.1L418.5 2196.7L419.5 2193.6L420.5 2192.6L421.5 2192.8L422.5 2197.1L423.5 2194.8L424.5 2195.3L425.5 2194.8L426.5 2192L427.5 2192.2L428.5 2195.9L429.5 2198.5L430.5 2200.9L431.5 2196L432.5 2197.8L433.5 2201.9L434.5 2199.8L435.5 2198.6L436.5 2198.2L437.5 2198.2L438.5 2196.8L439.5 2199.9L440.5 2198.2L441.5 2201.3L442.5 2200.3L443.5 2198.8L444.5 2200.7L445.5 2199.3L446.5 2196.1L447.5 2197.4L448.5 2197.2L449.5 2195L450.5 2194.5L451.5 2196.5L452.5 2196L453.5 2196.8L454.5 2199.1L455.5 2199.2L456.5 2195.3L457.5 2196.4L458.5 2196.3L459.5 2198.2L460.5 2200.8L461.5 2200.8L462.5 2199.1L463.5 2198.3L464.5 2195.8L465.5 2197.6L466.5 2197.9L467.5 2199.6L468.5 2197.7L469.5 2197.7L470.5 2199.5L471.5 2197.5L472.5 2197.9L473.5 2195.9L474.5 2194.5L475.5 2195.6L476.5 2198.3L477.5 2199.4L478.5 2200L479.5 2201.9L480.5 2197.2L481.5 2197.9L482.5 2200.1L483.5 2198.6L484.5 2200.4L485.5 2199.9L486.5 2196.9L487.5 2196.9L488.5 2200L489.5 2201.1L490.5 2199.4L491.5 2198.9L492.5 2199.4L493.5 2199L494.5 2199L495.5 2197.7L496.5 2195.2L497.5 2195.6L498.5 2196.2L499.5 2199L500.5 2199.3L501.5 2201.6L502.5 2200.5L503.5 2201L504.5 2199.3L505.5 2199.5L506.5 2196.5L507.5 2196.8L508.5 2199.1L509.5 2195.9L510.5 2198L511.5 2199.8L512.5 2198.2L513.5 2199.5L514.5 2196.9L515.5 2200.1L516.5 2201.4L517.5 2199.6L518.5 2199L519.5 2199.8L520.5 2199.9L521.5 2200.6L522.5 2202L523.5 2198.4L524.5 2197.9L525.5 2197.5L526.5 2198.1L527.5 2198.9L528.5 2199.6L529.5 2199.3L530.5 2199.8L531.5 2201.9L532.5 2202.6L533.5 2202.6L534.5 2202.7L535.5 2203.2L536.5 2200.7L537.5 2201.1L538.5 2198.9L539.5 2198.9L540.5 2198.8L541.5 2198.8L542.5 2196.6L543.5 2191.5L544.5 2175.8L545.5 2178.7L546.5 2165.4L547.5 2149L548.5 2122.3L549.5 2088.1L550.5 2053.1L551.5 2012L552.5 1959.1L553.5 1912.3L554.5 1860.4L555.5 1814.2L556.5 1784.5L557.5 1764.5L558.5 1763.5L559.5 1780L560.5 1814L561.5 1848.9L562.5 1894.4L563.5 1946.7L564.5 1993.9L565.5 2038.8L566.5 2080.9L567.5 2113.3L568.5 2137.9L569.5 2160.8L570.5 2175.4L571.5 2183.5L572.5 2193L573.5 2195L574.5 2199.3L575.5 2201.4L576.5 2202.3L577.5 2201.9L578.5 2202.5L579.5 2203.5L580.5 2201.7L581.5 2199.1L582.5 2200.8L583.5 2206.4L584.5 2205.2L585.5 2204.9L586.5 2203.3L587.5 2202.2L588.5 2202.2L589.5 2202.1L590.5 2202L591.5 2202.3L592.5 2200.3L593.5 2196.1L594.5 2196.2L595.5 2183.4L596.5 2186.1L597.5 2177.9L598.5 2172.6L599.5 2168L600.5 2159.9L601.5 2149.6L602.5 2141.2L603.5 2136.5L604.5 2133L605.5 2130.9L606.5 2132.9L607.5 2134.8L608.5 2141.5L609.5 2151.1L610.5 2154.3L611.5 2161.5L612.5 2169.1L613.5 2177.4L614.5 2182.1L615.5 2190.3L616.5 2192.7L617.5 2194.1L618.5 2197.1L619.5 2205.1L620.5 2205.7L621.5 2205.3L622.5 2205.5L623.5 2207.4L624.5 2206.8L625.5 2206.1L626.5 2205L627.5 2205.2L628.5 2203.9L629.5 2202.6L630.5 2203.3L631.5 2202.8L632.5 2199.8L633.5 2195.7L634.5 2185.4L635.5 2169L636.5 2147.1L637.5 2115.6L638.5 2069.8L639.5 2018.9L640.5 1942.6L641.5 1855.7L642.5 1750.4L643.5 1648.2L644.5 1540L645.5 1442.5L646.5 1366.8L647.5 1310.4L648.5 1286.1L649.5 1294.8L650.5 1341.1L651.5 1414.6L652.5 1507L653.5 1608.6L654.5 1725L655.5 1821.3L656.5 1912.6L657.5 1990.3L658.5 2056.1L659.5 2103.7L660.5 2139.3L661.5 2164.1L662.5 2182.6L663.5 2193.7L664.5 2202.2L665.5 2204.7L666.5 2209.6L667.5 2210.9L668.5 2211.1L669.5 2211.1L670.5 2208.9L671.5 2211.4L672.5 2209.7L673.5 2209.4L674.5 2211.6L675.5 2208L676.5 2208.4L677.5 2204.2L678.5 2209.5L679.5 2209.9L680.5 2210.8L681.5 2211.7L682.5 2209.3L683.5 2212.5L684.5 2210.6L685.5 2211.1L686.5 2211.9L687.5 2214L688.5 2213.1L689.5 2212.4L690.5 2211L691.5 2207L692.5 2206L693.5 2202.8L694.5 2200L695.5 2195.8L696.5 2190.7L697.5 2184.3L698.5 2176.1L699.5 2164.9L700.5 2151.6L701.5 2138.9L702.5 2128.8L703.5 2114.1L704.5 2104.7L705.5 2094.8L706.5 2089.1L707.5 2090.6L708.5 2094.7L709.5 2101.3L710.5 2109.9L711.5 2116.9L712.5 2126.8L713.5 2140.5L714.5 2152.2L715.5 2163.4L716.5 2178.2L717.5 2182.9L718.5 2192.1L719.5 2199.5L720.5 2204.2L721.5 2211.1L722.5 2209.9L723.5 2210.8L724.5 2212.6L725.5 2211L726.5 2213.3L727.5 2212.4L728.5 2214.2L729.5 2212.8L730.5 2212.5L731.5 2212L732.5 2211.8L733.5 2209.5L734.5 2206.3L735.5 2203.2L736.5 2197.8L737.5 2188.7L738.5 2179.1L739.5 2168.5L740.5 2159.9L741.5 2152.4L742.5 2146.9L743.5 2144.2L744.5 2144.1L745.5 2138.4L746.5 2138.9L747.5 2137.6L748.5 2134.5L749.5 2139.8L750.5 2143.8L751.5 2155.5L752.5 2161L753.5 2169L754.5 2178L755.5 2188.6L756.5 2192.8L757.5 2196.1L758.5 2201.5L759.5 2208.1L760.5 2209.7L761.5 2213.7L762.5 2212L763.5 2211.8L764.5 2211.9L765.5 2211.9L766.5 2213.3L767.5 2213.2L768.5 2213.8L769.5 2215.3L770.5 2215.7L771.5 2213.5L772.5 2215.1L773.5 2213.9L774.5 2216L775.5 2216.2L776.5 2215.3L777.5 2213.9L778.5 2216.1L779.5 2215.9L780.5 2215.2L781.5 2215.6L782.5 2215.7L783.5 2216.2L784.5 2215.4L785.5 2215.7L786.5 2215.5L787.5 2215L788.5 2215.6L789.5 2215.2L790.5 2214.7L791.5 2214.2L792.5 2214.7L793.5 2214L794.5 2215.6L795.5 2216.5L796.5 2215.5L797.5 2216.9L798.5 2217.2L799.5 2216.1L800.5 2218.3L801.5 2216.7L802.5 2217.3L803.5 2215.8L804.5 2214.6L805.5 2213.4L806.5 2214L807.5 2211.8L808.5 2211.4L809.5 2211.5L810.5 2210.6L811.5 2207.7L812.5 2206.7L813.5 2208.4L814.5 2205.2L815.5 2204.3L816.5 2204L817.5 2205.3L818.5 2204.6L819.5 2203.8L820.5 2206.3L821.5 2206.8L822.5 2206.1L823.5 2208.9L824.5 2207.3L825.5 2209.6L826.5 2210L827.5 2210.8L828.5 2211.5L829.5 2212.9L830.5 2212.7L831.5 2214.8L832.5 2214.4L833.5 2215L834.5 2215.5L835.5 2216.3L836.5 2215.4L837.5 2215.7L838.5 2216.2L839.5 2215.1L840.5 2214.7L841.5 2214.5L842.5 2213.8L843.5 2213.6L844.5 2214L845.5 2212.4L846.5 2214.8L847.5 2215L848.5 2216.3L849.5 2217.1L850.5 2217.8L851.5 2217L852.5 2217L853.5 2217.4L854.5 2216.6L855.5 2217.1L856.5 2218.8L857.5 2217.3L858.5 2217.8L859.5 2217.9L860.5 2217.6L861.5 2216.3L862.5 2217L863.5 2218.1L864.5 2216.3L865.5 2215.2L866.5 2216.8L867.5 2215.5L868.5 2216.5L869.5 2216.8L870.5 2217.4L871.5 2216.6L872.5 2217.8L873.5 2214.7L874.5 2217L875.5 2217.7L876.5 2217.9L877.5 2216.4L878.5 2214.1L879.5 2215.9L880.5 2217.2L881.5 2218.2L882.5 2218.5L883.5 2217.7L884.5 2216.9L885.5 2217.1L886.5 2218.2L887.5 2217L888.5 2217.8L889.5 2218.5L890.5 2217.4L891.5 2218.6L892.5 2218.2L893.5 2217.8L894.5 2217.5L895.5 2217.5L896.5 2217.9L897.5 2217.7L898.5 2218L899.5 2217.8L900.5 2216.8L901.5 2216.6L902.5 2216.4L903.5 2216.4L904.5 2217.9L905.5 2217.4L906.5 2216.3L907.5 2215.9L908.5 2217.5L909.5 2217.7L910.5 2216L911.5 2217.4L912.5 2217L913.5 2218.5L914.5 2218.3L915.5 2218.1L916.5 2216.9L917.5 2217.2L918.5 2217.9L919.5 2217.7L920.5 2217.2L921.5 2217.8L922.5 2216.4L923.5 2218.3L924.5 2217.5L925.5 2218.1L926.5 2218.1L927.5 2217.3L928.5 2218.1L929.5 2216.8L930.5 2217.6L931.5 2218L932.5 2218.5L933.5 2218L934.5 2218.4L935.5 2217.5L936.5 2217.9L937.5 2218L938.5 2217.1L939.5 2217.5L940.5 2218.4L941.5 2218.7L942.5 2219.1L943.5 2219L944.5 2218.7L945.5 2218.8L946.5 2218.7L947.5 2217.2L948.5 2218.2L949.5 2217.9L950.5 2216.8L951.5 2217.6L952.5 2217.4L953.5 2219.8L954.5 2218.8L955.5 2218.9L956.5 2216.9L957.5 2218.6L958.5 2218.6L959.5 2219.5L960.5 2220L961.5 2218.8L962.5 2217.6L963.5 2217.5L964.5 2218.6L965.5 2218.1L966.5 2218.8L967.5 2217.7L968.5 2217.6L969.5 2219L970.5 2218.5L971.5 2218.2L972.5 2218L973.5 2218.6L974.5 2218.5L975.5 2219L976.5 2218.2L977.5 2218.3L978.5 2217.9L979.5 2218.7L980.5 2218.7L981.5 2219.1L982.5 2219.4L983.5 2219.5L984.5 2219.8L985.5 2218.7L986.5 2220L987.5 2220.1L988.5 2221.5L989.5 2220.2L990.5 2219.6L991.5 2218.8L992.5 2219L993.5 2218.8L994.5 2219.1L995.5 2219.8L996.5 2218L997.5 2218.8L998.5 2218.8L999.5 2217.9L1000.5 2218.4L1001.5 2218.9L1002.5 2219.6L1003.5 2219.6L1004.5 2219.3L1005.5 2220.5L1006.5 2219.9L1007.5 2219.2L1008.5 2218.4L1009.5 2218L1010.5 2217.7L1011.5 2218.9L1012.5 2219.2L1013.5 2219.8L1014.5 2220L1015.5 2219.1L1016.5 2219.2L1017.5 2218.8L1018.5 2219.6L1019.5 2219.5L1020.5 2220.8L1021.5 2220.3L1022.5 2219.4L1023.5 2220.1L1024.5 2220.8L1025.5 2220.4L1026.5 2220L1027.5 2219.6L1028.5 2219.5L1029.5 2220L1030.5 2220L1031.5 2221.3L1032.5 2220.8L1033.5 2219.9L1034.5 2219L1035.5 2219.6L1036.5 2219L1037.5 2218.8L1038.5 2219.7L1039.5 2218.5L1040.5 2219L1041.5 2219.3L1042.5 2220L1043.5 2221L1044.5 2219.8L1045.5 2219.5L1046.5 2220.1L1047.5 2219.4L1048.5 2220.2L1049.5 2219.7L1050.5 2221.3L1051.5 2221.3L1052.5 2220.8L1053.5 2219.9L1054.5 2218.5L1055.5 2219.4L1056.5 2219.5L1057.5 2219.8L1058.5 2220.2L1059.5 2220.9L1060.5 2219.9L1061.5 2219.1L1062.5 2218.9L1063.5 2217L1064.5 2218.2L1065.5 2218.9L1066.5 2220.3L1067.5 2221.4L1068.5 2219.5L1069.5 2219.4L1070.5 2220.2L1071.5 2219.5L1072.5 2220L1073.5 2220.5L1074.5 2220.8L1075.5 2219.8L1076.5 2219.7L1077.5 2220.2L1078.5 2221.2L1079.5 2220.7L1080.5 2220.7L1081.5 2220.9L1082.5 2220.4L1083.5 2220.6L1084.5 2220.9L1085.5 2219.9L1086.5 2220.3L1087.5 2220.4L1088.5 2220.3L1089.5 2219.7L1090.5 2220.8L1091.5 2219.7L1092.5 2219.3L1093.5 2219.1L1094.5 2219.6L1095.5 2220.5L1096.5 2220.5L1097.5 2221.9L1098.5 2221.4L1099.5 2221L1100.5 2220.5L1101.5 2220.2L1102.5 2219.9L1103.5 2220.4L1104.5 2220.8L1105.5 2221.9L1106.5 2221.8L1107.5 2222.3L1108.5 2222L1109.5 2221.2L1110.5 2220.8L1111.5 2220.8L1112.5 2220.3L1113.5 2220.3L1114.5 2221.1L1115.5 2221L1116.5 2222.1L1117.5 2221.7L1118.5 2220.8L1119.5 2220.6L1120.5 2220.9L1121.5 2220.9L1122.5 2221.1L1123.5 2220L1124.5 2221.2L1125.5 2221.6L1126.5 2218.8L1127.5 2220.8L1128.5 2220.9L1129.5 2220.8L1130.5 2220.9L1131.5 2221.2L1132.5 2220.9L1133.5 2221.4L1134.5 2221.1L1135.5 2221L1136.5 2221L1137.5 2220.2L1138.5 2220.9L1139.5 2221.2L1140.5 2221.5L1141.5 2221.5L1142.5 2221.8L1143.5 2220.5L1144.5 2220.1L1145.5 2221.3L1146.5 2220.8L1147.5 2220.9L1148.5 2220.9L1149.5 2220.3L1150.5 2220.7L1151.5 2220.6L1152.5 2221.4L1153.5 2221.4L1154.5 2221.3L1155.5 2221.2L1156.5 2221.8L1157.5 2221.8L1158.5 2222L1159.5 2221.6L1160.5 2221.5L1161.5 2220.9L1162.5 2220.9L1163.5 2220.2L1164.5 2220.2L1165.5 2221L1166.5 2220.6L1167.5 2221L1168.5 2220.8L1169.5 2221.5L1170.5 2221.2L1171.5 2220.4L1172.5 2220.2L1173.5 2221L1174.5 2220.9L1175.5 2221.8L1176.5 2221.7L1177.5 2221.1L1178.5 2221.7L1179.5 2221.6L1180.5 2220.6L1181.5 2221.5L1182.5 2221.6L1183.5 2221.7L1184.5 2221.7L1185.5 2221.3L1186.5 2220.7L1187.5 2221.1L1188.5 2220.4L1189.5 2220.6L1190.5 2220.6L1191.5 2221.4L1192.5 2221.9L1193.5 2221.9L1194.5 2221.2L1195.5 2220.7L1196.5 2221L1197.5 2221.9L1198.5 2221.8L1199.5 2221.4L1200.5 2221.1L1201.5 2221.5L1202.5 2221.8L1203.5 2220.7L1204.5 2221.1L1205.5 2221.7L1206.5 2221.8L1207.5 2221.7L1208.5 2222.4L1209.5 2221.9L1210.5 2222.1L1211.5 2222L1212.5 2221.5L1213.5 2221.5L1214.5 2221.9L1215.5 2222.1L1216.5 2222.9L1217.5 2222.2L1218.5 2222.3L1219.5 2222.7L1220.5 2221.5L1221.5 2221.9L1222.5 2221.4L1223.5 2221.6L1224.5 2221.5L1225.5 2221.6L1226.5 2221.8L1227.5 2222.4L1228.5 2222.5L1229.5 2222.7L1230.5 2222L1231.5 2221.7L1232.5 2221.6L1233.5 2221.7L1234.5 2222L1235.5 2221.9L1236.5 2221.9L1237.5 2222.3L1238.5 2222.2L1239.5 2222.2L1240.5 2221.4L1241.5 2221.7L1242.5 2222.1L1243.5 2221.8L1244.5 2221.7L1245.5 2222.2L1246.5 2221.9L1247.5 2222L1248.5 2221.8L1249.5 2222.2L1250.5 2221.9L1251.5 2222.2L1252.5 2222.5L1253.5 2222.2L1254.5 2222.3L1255.5 2221.8L1256.5 2221.9L1257.5 2222.4L1258.5 2222.6L1259.5 2222.3L1260.5 2222.2L1261.5 2222.5L1262.5 2222.5L1263.5 2221.8L1264.5 2222.2L1265.5 2222.5L1266.5 2222.3L1267.5 2222.7L1268.5 2222.5L1269.5 2222.4L1270.5 2222.4L1271.5 2221.9L1272.5 2221.8L1273.5 2221.8L1274.5 2222.6L1275.5 2222.8L1276.5 2222.9L1277.5 2222.9L1278.5 2222.9L1279.5 2222.7L1280.5 2222.9L1281.5 2222.9L1282.5 2222.9L1283.5 2222.3L1284.5 2222.6L1285.5 2222.7L1286.5 2222.9L1287.5 2222.9L1288.5 2222.7L1289.5 2222.8L1290.5 2222.9L1291.5 2222.6L1292.5 2222.3L1293.5 2222.4L1294.5 2222.6L1295.5 2222.1L1296.5 2222.4L1297.5 2222.3L1298.5 2222.1L1299.5 2222.2L1300.5 2222.5L1301.5 2222L1302.5 2222.2L1303.5 2222.2L1304.5 2222.3L1305.5 2222.6L1306.5 2222.1L1307.5 2222.2L1308.5 2222.5L1309.5 2222.9L1310.5 2222.7L1311.5 2222.3L1312.5 2222.3L1313.5 2222.7L1314.5 2222.6L1315.5 2222.4L1316.5 2222.3L1317.5 2222.5L1318.5 2222.3L1319.5 2222.9L1320.5 2222.9L1321.5 2222.5L1322.5 2222.5L1323.5 2222.7L1324.5 2222.7L1325.5 2222.7L1326.5 2222.6L1327.5 2222.9L1328.5 2222.6L1329.5 2222.6L1330.5 2222.6L1331.5 2222.7L1332.5 2222.8L1333.5 2222.9L1334.5 2222.9L1335.5 2222.9L1336.5 2222.9L1337.5 2222.9L1338.5 2222.9L1339.5 2222.7L1340.5 2222.9L1341.5 2222.9L1342.5 2222.9L1343.5 2222.9L1344.5 2222.9L1345.5 2222.9L1346.5 2222.9L1347.5 2222.9L1348.5 2222.9L1349.5 2222.9L1350.5 2222.8L1351.5 2222.9L1352.5 2222.6L1353.5 2222.7L1354.5 2222.7L1355.5 2222.5L1356.5 2222.8L1357.5 2222.9L1358.5 2222.9L1359.5 2222.9L1360.5 2222.9L1361.5 2222.9L1362.5 2222.9L1363.5 2222.9L1364.5 2222.9L1365.5 2222.9L1366.5 2222.9L1367.5 2222.9L1368.5 2222.9L1369.5 2222.8L1370.5 2222.9L1371.5 2222.9L1372.5 2222.9L1373.5 2222.9L1374.5 2222.9L1375.5 2222.9L1376.5 2222.9L1377.5 2222.9L1378.5 2222.9L1379.5 2222.9L1380.5 2222.8L1381.5 2222.9L1382.5 2222.9L1383.5 2222.8L1384.5 2222.8L1385.5 2222.9L1386.5 2222.9L1387.5 2222.9L1388.5 2222.9L1389.5 2222.9L1390.5 2222.9L1391.5 2222.8L1392.5 2222.7L1393.5 2222.8L1394.5 2222.9L1395.5 2222.7L1396.5 2222.8L1397.5 2222.9L1398.5 2222.9L1399.5 2222.9L1400.5 2222.9L1401.5 2222.8L1402.5 2222.9L1403.5 2222.9L1404.5 2222.9L1405.5 2222.9L1406.5 2222.9L1407.5 2222.9L1408.5 2222.9L1409.5 2222.9L1410.5 2222.9L1411.5 2222.9L1412.5 2222.9L1413.5 2222.9L1414.5 2222.9L1415.5 2222.9L1416.5 2222.9L1417.5 2222.9L1418.5 2222.9L1419.5 2222.9L1420.5 2222.9L1421.5 2222.9L1422.5 2222.8L1423.5 2222.8L1424.5 2222.7L1425.5 2222.8L1426.5 2222.8L1427.5 2222.9L1428.5 2222.9L1429.5 2222.9L1430.5 2222.9L1431.5 2222.8L1432.5 2222.9L1433.5 2222.9L1434.5 2222.9L1435.5 2222.9L1436.5 2222.7L1437.5 2222.8L1438.5 2222.9L1439.5 2222.9L1440.5 2222.9L1441.5 2222.9L1442.5 2222.9L1443.5 2222.9L1444.5 2222.9L1445.5 2222.9L1446.5 2222.9L1447.5 2222.9L1448.5 2222.8L1449.5 2222.9L1450.5 2222.9L1450.5 2222.9Z" fill="url(#gB)" stroke="#cc0000" stroke-width="1.6" stroke-linejoin="round"/>
<g>
<rect x="76.1" y="1831.3" width="5" height="389.6" fill="rgba(0,255,128,0.5)"/>
<rect x="78.8" y="2211.7" width="5.4" height="9.2" fill="rgba(0,255,128,0.5)"/>
<rect x="86.6" y="1831.3" width="4.8" height="389.6" fill="rgba(255,128,0,0.5)"/>
<rect x="96.6" y="1831.3" width="4.8" height="389.6" fill="rgba(255,128,0,0.5)"/>
<rect x="126.9" y="1831.3" width="4.6" height="389.6" fill="rgba(0,255,0,0.55)"/>
<rect x="118.2" y="2111.4" width="4.6" height="109.5" fill="rgba(0,255,0,0.45)"/>
<rect x="118.4" y="2189.7" width="4.6" height="31.2" fill="rgba(0,255,0,0.85)"/>
<rect x="127.7" y="2123.5" width="5.4" height="97.4" fill="rgba(0,255,0,0.85)"/>
<rect x="138.9" y="1831.3" width="5" height="389.6" fill="rgba(0,255,255,0.5)"/>
<rect x="139.1" y="2112.5" width="5.4" height="108.4" fill="rgba(0,255,255,0.9)"/>
<rect x="130.3" y="2146" width="5.2" height="74.9" fill="rgba(150,255,215,0.92)"/>
<rect x="129.6" y="2214" width="6" height="6.9" fill="rgba(0,255,255,0.9)"/>
<rect x="148.3" y="2212.8" width="4" height="8.1" fill="rgba(0,255,255,0.6)"/>
<rect x="220.4" y="1831.3" width="4.4" height="389.6" fill="rgba(255,0,255,0.55)"/>
<rect x="220.3" y="2190" width="4.6" height="30.9" fill="rgba(255,0,255,0.5)"/>
<rect x="229.5" y="2202.6" width="4.6" height="18.3" fill="rgba(255,0,255,0.8)"/>
<rect x="273" y="1831.3" width="4.6" height="389.6" fill="rgba(0,255,128,0.5)"/>
<rect x="273" y="2196" width="4.6" height="24.9" fill="rgba(0,255,128,0.25)"/>
<rect x="286.3" y="2200.8" width="4.6" height="20.1" fill="rgba(0,255,128,0.5)"/>
<rect x="645.8" y="1831.2" width="4.6" height="389.7" fill="rgba(0,255,0,0.55)"/>
<rect x="645" y="2024.7" width="6.2" height="196.2" fill="rgba(0,255,0,0.92)"/>
<rect x="705.1" y="2168.5" width="5" height="52.4" fill="rgba(0,255,0,0.6)"/>
<rect x="743.5" y="1831.2" width="4.6" height="389.7" fill="rgba(0,255,255,0.5)"/>
<rect x="742.7" y="2024.7" width="6.2" height="196.2" fill="rgba(0,255,255,0.92)"/>
<rect x="816.2" y="2166.7" width="4.8" height="54.2" fill="rgba(0,255,255,0.5)"/>
</g>
<g fill="#282828">
<rect x="55.3" y="2222.3" width="17.2" height="4.2"/>
<rect x="55.3" y="2186.2" width="17.2" height="4.2"/>
<rect x="55.3" y="2150.2" width="17.2" height="4.2"/>
<rect x="55.3" y="2114.1" width="17.2" height="4.2"/>
<rect x="55.3" y="2078" width="17.2" height="4.2"/>
<rect x="55.3" y="2041.9" width="17.2" height="4.2"/>
<rect x="55.3" y="2005.9" width="17.2" height="4.2"/>
<rect x="55.3" y="1969.8" width="17.2" height="4.2"/>
<rect x="55.3" y="1933.7" width="17.2" height="4.2"/>
<rect x="55.3" y="1897.6" width="17.2" height="4.2"/>
<rect x="55.3" y="1861.6" width="17.2" height="4.2"/>
<rect x="55.3" y="1825.5" width="17.2" height="4.2"/>
<rect x="55.3" y="1789.4" width="17.2" height="4.2"/>
<rect x="55.3" y="1753.3" width="17.2" height="4.2"/>
<rect x="55.3" y="1717.2" width="17.2" height="4.2"/>
<rect x="55.3" y="1681.2" width="17.2" height="4.2"/>
<rect x="55.3" y="1645.1" width="17.2" height="4.2"/>
<rect x="55.3" y="1609" width="17.2" height="4.2"/>
<rect x="55.3" y="1573" width="17.2" height="4.2"/>
<rect x="55.3" y="1536.9" width="17.2" height="4.2"/>
<rect x="55.3" y="1500.8" width="17.2" height="4.2"/>
<rect x="55.3" y="1464.7" width="17.2" height="4.2"/>
<rect x="55.3" y="1428.7" width="17.2" height="4.2"/>
<rect x="55.3" y="1392.6" width="17.2" height="4.2"/>
<rect x="55.3" y="1356.5" width="17.2" height="4.2"/>
<rect x="55.3" y="1320.4" width="17.2" height="4.2"/>
<rect x="55.3" y="1284.4" width="17.2" height="4.2"/>
<rect x="55.3" y="1248.3" width="17.2" height="4.2"/>
<rect x="107.1" y="2222.9" width="4.2" height="15"/>
<rect x="152.8" y="2222.9" width="4.2" height="15"/>
<rect x="198.4" y="2222.9" width="4.2" height="15"/>
<rect x="244" y="2222.9" width="4.2" height="24"/>
<rect x="289.6" y="2222.9" width="4.2" height="15"/>
<rect x="335.2" y="2222.9" width="4.2" height="15"/>
<rect x="380.9" y="2222.9" width="4.2" height="15"/>
<rect x="426.5" y="2222.9" width="4.2" height="24"/>
<rect x="472.1" y="2222.9" width="4.2" height="15"/>
<rect x="517.8" y="2222.9" width="4.2" height="15"/>
<rect x="563.4" y="2222.9" width="4.2" height="15"/>
<rect x="609" y="2222.9" width="4.2" height="24"/>
<rect x="654.6" y="2222.9" width="4.2" height="15"/>
<rect x="700.2" y="2222.9" width="4.2" height="15"/>
<rect x="745.9" y="2222.9" width="4.2" height="15"/>
<rect x="791.5" y="2222.9" width="4.2" height="24"/>
<rect x="837.1" y="2222.9" width="4.2" height="15"/>
<rect x="882.8" y="2222.9" width="4.2" height="15"/>
<rect x="928.4" y="2222.9" width="4.2" height="15"/>
<rect x="974" y="2222.9" width="4.2" height="24"/>
<rect x="1019.6" y="2222.9" width="4.2" height="15"/>
<rect x="1065.2" y="2222.9" width="4.2" height="15"/>
<rect x="1110.9" y="2222.9" width="4.2" height="15"/>
<rect x="1156.5" y="2222.9" width="4.2" height="24"/>
<rect x="1202.1" y="2222.9" width="4.2" height="15"/>
<rect x="1247.8" y="2222.9" width="4.2" height="15"/>
<rect x="1293.4" y="2222.9" width="4.2" height="15"/>
<rect x="1339" y="2222.9" width="4.2" height="24"/>
<rect x="1384.6" y="2222.9" width="4.2" height="15"/>
<rect x="1430.2" y="2222.9" width="4.2" height="15"/>
<rect x="1475.9" y="2222.9" width="4.2" height="15"/>
<rect x="1521.5" y="2222.9" width="4.2" height="24"/>
<rect x="1567.1" y="2222.9" width="4.2" height="15"/>
<rect x="1612.8" y="2222.9" width="4.2" height="15"/>
<rect x="1658.4" y="2222.9" width="4.2" height="15"/>
<rect x="1704" y="2222.9" width="4.2" height="24"/>
<rect x="1749.6" y="2222.9" width="4.2" height="15"/>
<rect x="1795.2" y="2222.9" width="4.2" height="15"/>
<rect x="1840.9" y="2222.9" width="4.2" height="15"/>
<rect x="1886.5" y="2222.9" width="4.2" height="24"/>
</g>
<rect x="70.1" y="1241.8" width="4.8" height="983.5" fill="#484246"/>
<rect x="70.1" y="1241.8" width="1820.9" height="4.4" fill="#363636"/>
<rect x="1885.4" y="1241.8" width="5.6" height="983.5" fill="#121212"/>
<rect x="70.1" y="2220.5" width="1820.9" height="4.8" fill="#0e0e0e"/>
<rect x="79" y="1599.4" width="44" height="50.3" fill="rgba(255,128,0,0.76)"/>
<rect x="73.8" y="1657.4" width="36.3" height="49.8" fill="rgba(255,128,0,0.76)"/>
<rect x="73.8" y="1716.4" width="23.1" height="50.1" fill="rgba(0,255,128,0.76)"/>
<rect x="114.4" y="1716.4" width="55.8" height="50.1" fill="rgba(0,255,255,0.76)"/>
<rect x="100.6" y="1776.3" width="57.1" height="48.1" fill="rgba(0,255,0,0.76)"/>
<rect x="199.5" y="1776.3" width="46.7" height="48.1" fill="rgba(255,0,255,0.76)"/>
<rect x="255" y="1776.3" width="40" height="48.1" fill="rgba(0,255,128,0.76)"/>
<rect x="620.1" y="1776" width="57.1" height="48.8" fill="rgba(0,255,0,0.76)"/>
<rect x="718.7" y="1776" width="56.6" height="48.8" fill="rgba(0,255,255,0.76)"/>
<g font-size="35" text-anchor="middle" fill="rgba(0,0,0,.43)">
<text x="103" y="1635.4" textLength="26.5" lengthAdjust="spacingAndGlyphs">N</text>
<text x="93.5" y="1693.1" textLength="21.9" lengthAdjust="spacingAndGlyphs">C</text>
<text x="81" y="1752.2" textLength="18.9" lengthAdjust="spacingAndGlyphs" clip-path="url(#clipB)">S</text>
<text x="145" y="1752.2" textLength="35.5" lengthAdjust="spacingAndGlyphs">Ni</text>
<text x="131" y="1811.1" textLength="36.6" lengthAdjust="spacingAndGlyphs">Fe</text>
<text x="226" y="1811.1" textLength="26.2" lengthAdjust="spacingAndGlyphs">Si</text>
<text x="278.4" y="1811.1" textLength="18.9" lengthAdjust="spacingAndGlyphs">S</text>
<text x="651" y="1811.2" textLength="36.6" lengthAdjust="spacingAndGlyphs">Fe</text>
<text x="749" y="1811.2" textLength="35.5" lengthAdjust="spacingAndGlyphs">Ni</text>
</g>
</g>
<text x="80" y="41.5" font-size="45" text-anchor="start" fill="#15151c" textLength="135" lengthAdjust="spacingAndGlyphs" stroke="#15151c" stroke-width="0.7">cps/eV</text>
<text x="83" y="1228.4" font-size="43" text-anchor="start" fill="#15151c" textLength="131.3" lengthAdjust="spacingAndGlyphs" stroke="#15151c" stroke-width="0.7">cps/eV</text>
<text x="867.2" y="1174.1" font-size="44" text-anchor="start" fill="#15151c" textLength="244.3" lengthAdjust="spacingAndGlyphs" stroke="#15151c" stroke-width="0.7">Energy [keV]</text>
<text x="246.9" y="1116.8" font-size="45.3" text-anchor="middle" fill="#15151c" stroke="#15151c" stroke-width="0.7">2</text>
<text x="431.9" y="1116.8" font-size="45.3" text-anchor="middle" fill="#15151c" stroke="#15151c" stroke-width="0.7">4</text>
<text x="616.9" y="1116.8" font-size="45.3" text-anchor="middle" fill="#15151c" stroke="#15151c" stroke-width="0.7">6</text>
<text x="801.9" y="1116.8" font-size="45.3" text-anchor="middle" fill="#15151c" stroke="#15151c" stroke-width="0.7">8</text>
<text x="987.9" y="1116.8" font-size="45.3" text-anchor="middle" fill="#15151c" stroke="#15151c" stroke-width="0.7">10</text>
<text x="1172.9" y="1116.8" font-size="45.3" text-anchor="middle" fill="#15151c" stroke="#15151c" stroke-width="0.7">12</text>
<text x="1357.9" y="1116.8" font-size="45.3" text-anchor="middle" fill="#15151c" stroke="#15151c" stroke-width="0.7">14</text>
<text x="1542.9" y="1116.8" font-size="45.3" text-anchor="middle" fill="#15151c" stroke="#15151c" stroke-width="0.7">16</text>
<text x="1727.9" y="1116.8" font-size="45.3" text-anchor="middle" fill="#15151c" stroke="#15151c" stroke-width="0.7">18</text>
<text x="1895" y="1117" font-size="46" text-anchor="middle" fill="#15151c" clip-path="url(#cutR)" stroke="#15151c" stroke-width="0.7">20</text>
<text x="246.6" y="2293" font-size="45" text-anchor="middle" fill="#15151c" stroke="#15151c" stroke-width="0.7">2</text>
<text x="429.1" y="2293" font-size="45" text-anchor="middle" fill="#15151c" stroke="#15151c" stroke-width="0.7">4</text>
<text x="611.6" y="2293" font-size="45" text-anchor="middle" fill="#15151c" stroke="#15151c" stroke-width="0.7">6</text>
<text x="794.1" y="2293" font-size="45" text-anchor="middle" fill="#15151c" stroke="#15151c" stroke-width="0.7">8</text>
<text x="977.1" y="2293" font-size="45" text-anchor="middle" fill="#15151c" stroke="#15151c" stroke-width="0.7">10</text>
<text x="1159.6" y="2293" font-size="45" text-anchor="middle" fill="#15151c" stroke="#15151c" stroke-width="0.7">12</text>
<text x="1342.1" y="2293" font-size="45" text-anchor="middle" fill="#15151c" stroke="#15151c" stroke-width="0.7">14</text>
<text x="1524.6" y="2293" font-size="45" text-anchor="middle" fill="#15151c" stroke="#15151c" stroke-width="0.7">16</text>
<text x="1707.1" y="2293" font-size="45" text-anchor="middle" fill="#15151c" stroke="#15151c" stroke-width="0.7">18</text>
<text x="1871.5" y="2293" font-size="45" text-anchor="middle" fill="#15151c" clip-path="url(#cutRB)" stroke="#15151c" stroke-width="0.7">20</text>
<text x="858" y="2351" font-size="44" text-anchor="start" fill="#15151c" textLength="244" lengthAdjust="spacingAndGlyphs" stroke="#15151c" stroke-width="0.7">Energy [keV]</text>
<text x="47" y="1064.2" font-size="47" text-anchor="end" fill="#15151c" stroke="#15151c" stroke-width="0.6">0</text>
<text x="47" y="918.3" font-size="47" text-anchor="end" fill="#15151c" stroke="#15151c" stroke-width="0.6">2</text>
<text x="47" y="772.5" font-size="47" text-anchor="end" fill="#15151c" stroke="#15151c" stroke-width="0.6">4</text>
<text x="47" y="626.6" font-size="47" text-anchor="end" fill="#15151c" stroke="#15151c" stroke-width="0.6">6</text>
<text x="47" y="480.8" font-size="47" text-anchor="end" fill="#15151c" stroke="#15151c" stroke-width="0.6">8</text>
<text x="55" y="334.1" font-size="47" text-anchor="end" fill="#7fbdee" stroke="#7fbdee" stroke-width="1" clip-path="url(#cut1)">10</text>
<text x="47.6" y="334.1" font-size="47" text-anchor="end" fill="#15151c" clip-path="url(#cut2)" stroke="#15151c" stroke-width="0.6">10</text>
<text x="54.6" y="188.2" font-size="47" text-anchor="end" fill="#7fbdee" stroke="#7fbdee" stroke-width="1" clip-path="url(#cut1)">12</text>
<text x="47.2" y="188.2" font-size="47" text-anchor="end" fill="#15151c" clip-path="url(#cut2)" stroke="#15151c" stroke-width="0.6">12</text>
<text x="49.5" y="2243.4" font-size="45.5" text-anchor="end" fill="#15151c" stroke="#15151c" stroke-width="0.7">0</text>
<text x="49.5" y="2099.1" font-size="45.5" text-anchor="end" fill="#15151c" stroke="#15151c" stroke-width="0.7">2</text>
<text x="49.5" y="1954.8" font-size="45.5" text-anchor="end" fill="#15151c" stroke="#15151c" stroke-width="0.7">4</text>
<text x="49.5" y="1810.5" font-size="45.5" text-anchor="end" fill="#15151c" stroke="#15151c" stroke-width="0.7">6</text>
<text x="49.5" y="1666.2" font-size="45.5" text-anchor="end" fill="#15151c" stroke="#15151c" stroke-width="0.7">8</text>
<text x="1.5" y="1521.9" font-size="45.5" text-anchor="start" fill="#15151c" textLength="45.5" lengthAdjust="spacingAndGlyphs" stroke="#15151c" stroke-width="0.7">10</text>
<text x="1.5" y="1377.6" font-size="45.5" text-anchor="start" fill="#15151c" textLength="45.5" lengthAdjust="spacingAndGlyphs" stroke="#15151c" stroke-width="0.7">12</text>
<g>
<rect x="1353.1" y="54.8" width="3" height="61.1" fill="#1a1a1a"/>
<rect x="1353.1" y="112.7" width="555.4" height="3.4" fill="#555555"/>
<rect x="1371.7" y="80.2" width="67.8" height="3" fill="#e2545a"/>
</g>
<text x="1501.8" y="93" font-size="32" text-anchor="start" fill="#1c1c22" textLength="341.4" lengthAdjust="spacingAndGlyphs" stroke="#1c1c22" stroke-width="0.7">1.00 * Acquisition 3232</text>
<g>
<rect x="1339" y="1244" width="3" height="61.1" fill="#2a2a2a"/>
<rect x="1339" y="1301.9" width="547.7" height="3.4" fill="#555555"/>
<rect x="1357" y="1269.1" width="65.6" height="3" fill="#e2545a"/>
</g>
<text x="1485.3" y="1282.3" font-size="32" text-anchor="start" fill="#1c1c22" textLength="336" lengthAdjust="spacingAndGlyphs" stroke="#1c1c22" stroke-width="0.7">1.00 * Acquisition 3234</text>
<g id="tableA">
<rect x="819.6" y="187.7" width="1062.9" height="83.6" fill="#dcdcdc"/>
<rect x="826.5" y="271" width="116.4" height="43" fill="#dcdcdc"/>
<text x="819.6" y="179.2" font-size="30.2" text-anchor="start" fill="#26262c" textLength="224.6" lengthAdjust="spacingAndGlyphs" stroke="#26262c" stroke-width="0.7">Acquisition 3231</text>
<text x="824.9" y="241.4" font-size="30.2" text-anchor="start" fill="#26262c" textLength="111.1" lengthAdjust="spacingAndGlyphs" stroke="#26262c" stroke-width="0.7">Element</text>
<text x="946.3" y="241.4" font-size="30.2" text-anchor="start" fill="#26262c" textLength="93.3" lengthAdjust="spacingAndGlyphs" stroke="#26262c" stroke-width="0.7">At. No.</text>
<text x="1053.5" y="241.4" font-size="30.2" text-anchor="start" fill="#26262c" textLength="78.3" lengthAdjust="spacingAndGlyphs" stroke="#26262c" stroke-width="0.7">Netto</text>
<text x="1152.3" y="220.6" font-size="30.2" text-anchor="start" fill="#26262c" textLength="65.7" lengthAdjust="spacingAndGlyphs" stroke="#26262c" stroke-width="0.7">Mass</text>
<text x="1164.5" y="261.5" font-size="30.2" text-anchor="start" fill="#26262c" textLength="39.5" lengthAdjust="spacingAndGlyphs" stroke="#26262c" stroke-width="0.7">[%]</text>
<text x="1234" y="220.6" font-size="30.2" text-anchor="start" fill="#26262c" textLength="160.2" lengthAdjust="spacingAndGlyphs" stroke="#26262c" stroke-width="0.7">Mass Norm.</text>
<text x="1293.8" y="261.5" font-size="30.2" text-anchor="start" fill="#26262c" textLength="39.6" lengthAdjust="spacingAndGlyphs" stroke="#26262c" stroke-width="0.7">[%]</text>
<text x="1416" y="220.6" font-size="30.2" text-anchor="start" fill="#26262c" textLength="74" lengthAdjust="spacingAndGlyphs" stroke="#26262c" stroke-width="0.7">Atom</text>
<text x="1433.2" y="261.5" font-size="30.2" text-anchor="start" fill="#26262c" textLength="39.6" lengthAdjust="spacingAndGlyphs" stroke="#26262c" stroke-width="0.7">[%]</text>
<text x="1510.4" y="220.6" font-size="30.2" text-anchor="start" fill="#26262c" textLength="180.8" lengthAdjust="spacingAndGlyphs" stroke="#26262c" stroke-width="0.7">abs. error [%]</text>
<text x="1540" y="261.5" font-size="30.2" text-anchor="start" fill="#26262c" textLength="122.5" lengthAdjust="spacingAndGlyphs" stroke="#26262c" stroke-width="0.7">(1 sigma)</text>
<text x="1702.8" y="220.6" font-size="30.2" text-anchor="start" fill="#26262c" textLength="171.6" lengthAdjust="spacingAndGlyphs" stroke="#26262c" stroke-width="0.7">rel. error [%]</text>
<text x="1728" y="261.5" font-size="30.2" text-anchor="start" fill="#26262c" textLength="123.4" lengthAdjust="spacingAndGlyphs" stroke="#26262c" stroke-width="0.7">(1 sigma)</text>
<text x="827.6" y="309.4" font-size="30.2" text-anchor="start" fill="#26262c" textLength="96.8" lengthAdjust="spacingAndGlyphs" stroke="#26262c" stroke-width="0.7">Carbon</text>
<text x="1025.7" y="309.4" font-size="30.2" text-anchor="start" fill="#26262c" textLength="16.3" lengthAdjust="spacingAndGlyphs" stroke="#26262c" stroke-width="0.7">6</text>
<text x="1087.5" y="309.4" font-size="30.2" text-anchor="start" fill="#26262c" textLength="48.9" lengthAdjust="spacingAndGlyphs" stroke="#26262c" stroke-width="0.7">830</text>
<text x="1163.2" y="309.4" font-size="30.2" text-anchor="start" fill="#26262c" textLength="57.1" lengthAdjust="spacingAndGlyphs" stroke="#26262c" stroke-width="0.7">0.78</text>
<text x="1334.9" y="309.4" font-size="30.2" text-anchor="start" fill="#26262c" textLength="57.1" lengthAdjust="spacingAndGlyphs" stroke="#26262c" stroke-width="0.7">5.23</text>
<text x="1421.1" y="309.4" font-size="30.2" text-anchor="start" fill="#26262c" textLength="73.4" lengthAdjust="spacingAndGlyphs" stroke="#26262c" stroke-width="0.7">20.07</text>
<text x="1628.4" y="309.4" font-size="30.2" text-anchor="start" fill="#26262c" textLength="57.1" lengthAdjust="spacingAndGlyphs" stroke="#26262c" stroke-width="0.7">0.21</text>
<text x="1793" y="309.4" font-size="30.2" text-anchor="start" fill="#26262c" textLength="73.4" lengthAdjust="spacingAndGlyphs" stroke="#26262c" stroke-width="0.7">27.07</text>
</g>
<g id="tableB">
<rect x="750.7" y="1383.5" width="1107.9" height="84.3" fill="#dcdcdc"/>
<rect x="752.5" y="1467.5" width="131.5" height="43.5" fill="#dcdcdc"/>
<rect x="749.6" y="1510.5" width="131.6" height="93.2" fill="#dcdcdc"/>
<text x="751.9" y="1372.6" font-size="30.2" text-anchor="start" fill="#26262c" textLength="232.7" lengthAdjust="spacingAndGlyphs" stroke="#26262c" stroke-width="0.7">Acquisition 3233</text>
<text x="760" y="1439.4" font-size="30.2" text-anchor="start" fill="#26262c" textLength="115.2" lengthAdjust="spacingAndGlyphs" stroke="#26262c" stroke-width="0.7">Element</text>
<text x="889.7" y="1439.4" font-size="30.2" text-anchor="start" fill="#26262c" textLength="96.1" lengthAdjust="spacingAndGlyphs" stroke="#26262c" stroke-width="0.7">At. No.</text>
<text x="1001.4" y="1439.4" font-size="30.2" text-anchor="start" fill="#26262c" textLength="80.6" lengthAdjust="spacingAndGlyphs" stroke="#26262c" stroke-width="0.7">Netto</text>
<text x="1100.4" y="1416" font-size="30.2" text-anchor="start" fill="#26262c" textLength="70.2" lengthAdjust="spacingAndGlyphs" stroke="#26262c" stroke-width="0.7">Mass</text>
<text x="1114.2" y="1458.5" font-size="30.2" text-anchor="start" fill="#26262c" textLength="43.8" lengthAdjust="spacingAndGlyphs" stroke="#26262c" stroke-width="0.7">[%]</text>
<text x="1186.8" y="1416" font-size="30.2" text-anchor="start" fill="#26262c" textLength="165.9" lengthAdjust="spacingAndGlyphs" stroke="#26262c" stroke-width="0.7">Mass Norm.</text>
<text x="1249" y="1458.5" font-size="30.2" text-anchor="start" fill="#26262c" textLength="43.8" lengthAdjust="spacingAndGlyphs" stroke="#26262c" stroke-width="0.7">[%]</text>
<text x="1375.7" y="1416" font-size="30.2" text-anchor="start" fill="#26262c" textLength="76.1" lengthAdjust="spacingAndGlyphs" stroke="#26262c" stroke-width="0.7">Atom</text>
<text x="1393" y="1458.5" font-size="30.2" text-anchor="start" fill="#26262c" textLength="43.8" lengthAdjust="spacingAndGlyphs" stroke="#26262c" stroke-width="0.7">[%]</text>
<text x="1473.8" y="1416" font-size="30.2" text-anchor="start" fill="#26262c" textLength="186.7" lengthAdjust="spacingAndGlyphs" stroke="#26262c" stroke-width="0.7">abs. error [%]</text>
<text x="1504.9" y="1458.5" font-size="30.2" text-anchor="start" fill="#26262c" textLength="126.8" lengthAdjust="spacingAndGlyphs" stroke="#26262c" stroke-width="0.7">(1 sigma)</text>
<text x="1674.3" y="1416" font-size="30.2" text-anchor="start" fill="#26262c" textLength="177.4" lengthAdjust="spacingAndGlyphs" stroke="#26262c" stroke-width="0.7">rel. error [%]</text>
<text x="1698.5" y="1458.5" font-size="30.2" text-anchor="start" fill="#26262c" textLength="126.7" lengthAdjust="spacingAndGlyphs" stroke="#26262c" stroke-width="0.7">(1 sigma)</text>
<text x="755.3" y="1501.7" font-size="30.2" text-anchor="start" fill="#26262c" textLength="100.3" lengthAdjust="spacingAndGlyphs" stroke="#26262c" stroke-width="0.7">Carbon</text>
<text x="968.9" y="1501.7" font-size="30.2" text-anchor="start" fill="#26262c" textLength="16.9" lengthAdjust="spacingAndGlyphs" stroke="#26262c" stroke-width="0.7">6</text>
<text x="1033.9" y="1501.7" font-size="30.2" text-anchor="start" fill="#26262c" textLength="50.7" lengthAdjust="spacingAndGlyphs" stroke="#26262c" stroke-width="0.7">939</text>
<text x="1115" y="1501.7" font-size="30.2" text-anchor="start" fill="#26262c" textLength="59.2" lengthAdjust="spacingAndGlyphs" stroke="#26262c" stroke-width="0.7">0.72</text>
<text x="1295.6" y="1501.7" font-size="30.2" text-anchor="start" fill="#26262c" textLength="59.2" lengthAdjust="spacingAndGlyphs" stroke="#26262c" stroke-width="0.7">5.11</text>
<text x="1387.3" y="1501.7" font-size="30.2" text-anchor="start" fill="#26262c" textLength="76.1" lengthAdjust="spacingAndGlyphs" stroke="#26262c" stroke-width="0.7">19.15</text>
<text x="1605.4" y="1501.7" font-size="30.2" text-anchor="start" fill="#26262c" textLength="59.2" lengthAdjust="spacingAndGlyphs" stroke="#26262c" stroke-width="0.7">0.19</text>
<text x="1777.9" y="1501.7" font-size="30.2" text-anchor="start" fill="#26262c" textLength="76.1" lengthAdjust="spacingAndGlyphs" stroke="#26262c" stroke-width="0.7">26.55</text>
<text x="753" y="1545.4" font-size="30.2" text-anchor="start" fill="#26262c" textLength="123.3" lengthAdjust="spacingAndGlyphs" stroke="#26262c" stroke-width="0.7">Nitrogen</text>
<text x="966.9" y="1545.4" font-size="30.2" text-anchor="start" fill="#ff2a32" textLength="16.9" lengthAdjust="spacingAndGlyphs" stroke="#ff2a32" stroke-width="0.7">7</text>
<text x="1031.9" y="1545.4" font-size="30.2" text-anchor="start" fill="#ff2a32" textLength="50.7" lengthAdjust="spacingAndGlyphs" stroke="#ff2a32" stroke-width="0.7">228</text>
<text x="1113" y="1545.4" font-size="30.2" text-anchor="start" fill="#ff2a32" textLength="59.2" lengthAdjust="spacingAndGlyphs" stroke="#ff2a32" stroke-width="0.7">0.14</text>
<text x="1293.6" y="1545.4" font-size="30.2" text-anchor="start" fill="#ff2a32" textLength="59.2" lengthAdjust="spacingAndGlyphs" stroke="#ff2a32" stroke-width="0.7">1.03</text>
<text x="1402.2" y="1545.4" font-size="30.2" text-anchor="start" fill="#ff2a32" textLength="59.2" lengthAdjust="spacingAndGlyphs" stroke="#ff2a32" stroke-width="0.7">3.32</text>
<text x="1603.4" y="1545.4" font-size="30.2" text-anchor="start" fill="#ff2a32" textLength="59.2" lengthAdjust="spacingAndGlyphs" stroke="#ff2a32" stroke-width="0.7">0.08</text>
<text x="1775.9" y="1545.4" font-size="30.2" text-anchor="start" fill="#ff2a32" textLength="76.1" lengthAdjust="spacingAndGlyphs" stroke="#ff2a32" stroke-width="0.7">53.73</text>
<text x="751.9" y="1591.5" font-size="30.2" text-anchor="start" fill="#26262c" textLength="81.8" lengthAdjust="spacingAndGlyphs" stroke="#26262c" stroke-width="0.7">Sulfur</text>
<text x="950" y="1591.5" font-size="30.2" text-anchor="start" fill="#26262c" textLength="33.8" lengthAdjust="spacingAndGlyphs" stroke="#26262c" stroke-width="0.7">16</text>
<text x="1048.8" y="1591.5" font-size="30.2" text-anchor="start" fill="#26262c" textLength="33.8" lengthAdjust="spacingAndGlyphs" stroke="#26262c" stroke-width="0.7">97</text>
<text x="1113" y="1591.5" font-size="30.2" text-anchor="start" fill="#26262c" textLength="59.2" lengthAdjust="spacingAndGlyphs" stroke="#26262c" stroke-width="0.7">0.04</text>
<text x="1293.6" y="1591.5" font-size="30.2" text-anchor="start" fill="#26262c" textLength="59.2" lengthAdjust="spacingAndGlyphs" stroke="#26262c" stroke-width="0.7">0.32</text>
<text x="1402.2" y="1591.5" font-size="30.2" text-anchor="start" fill="#26262c" textLength="59.2" lengthAdjust="spacingAndGlyphs" stroke="#26262c" stroke-width="0.7">0.45</text>
<text x="1603.4" y="1591.5" font-size="30.2" text-anchor="start" fill="#26262c" textLength="59.2" lengthAdjust="spacingAndGlyphs" stroke="#26262c" stroke-width="0.7">0.01</text>
<text x="1775.9" y="1591.5" font-size="30.2" text-anchor="start" fill="#26262c" textLength="76.1" lengthAdjust="spacingAndGlyphs" stroke="#26262c" stroke-width="0.7">11.90</text>
</g>
</svg>
</body></html>
